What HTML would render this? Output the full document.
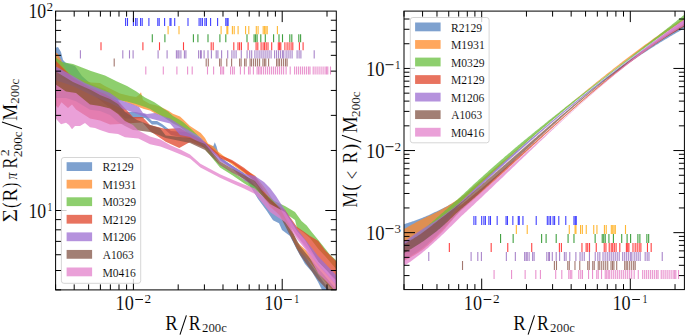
<!DOCTYPE html><html><head><meta charset="utf-8"><style>html,body{margin:0;padding:0;background:#fff;overflow:hidden;width:685px;height:335px;}svg{display:block}</style></head><body><svg width="685" height="335" viewBox="0 0 685 335" font-family="&quot;Liberation Serif&quot;, serif" fill="#000"><rect width="685" height="335" fill="#fff"/><defs><clipPath id="cL"><rect x="55.6" y="11.1" width="280.7" height="278.79999999999995"/></clipPath><clipPath id="cR"><rect x="404.0" y="11.1" width="280.4" height="278.5"/></clipPath></defs><g clip-path="url(#cL)"><polygon points="55.0,48.0 58.0,47.0 61.0,52.0 63.0,60.0 66.0,63.0 75.0,66.0 82.0,76.0 91.0,84.0 105.0,89.0 118.0,100.0 125.0,111.7 136.0,112.0 145.0,114.0 152.0,121.0 157.0,121.0 162.0,124.0 171.0,131.0 185.5,132.0 190.0,133.0 200.0,138.0 205.0,143.0 212.0,146.0 213.2,146.3 214.8,142.3 216.5,146.3 218.0,152.0 220.0,157.0 232.0,165.5 244.0,173.0 255.0,186.0 258.0,192.0 270.0,205.0 280.0,212.0 290.0,224.0 297.0,244.0 305.0,256.0 322.0,280.0 337.0,300.0 337.0,310.0 322.0,290.0 318.0,282.0 312.0,272.0 305.0,264.0 297.0,250.0 290.0,236.0 282.0,230.0 279.0,223.3 273.0,220.3 267.0,211.3 258.0,199.0 255.0,194.0 244.0,176.0 232.0,168.5 220.0,160.0 218.0,155.0 212.0,150.0 205.0,148.0 200.0,144.0 190.0,139.0 185.5,138.0 171.0,135.0 162.0,127.0 157.0,124.5 152.0,124.5 145.0,118.0 136.0,118.4 125.0,118.4 118.0,113.0 105.0,104.0 91.0,93.0 75.0,80.0 66.0,75.0 55.0,62.0" fill="#5382bf" fill-opacity="0.75"/><polygon points="55.0,52.0 58.0,54.0 61.0,60.0 66.0,70.0 73.0,76.0 82.0,80.0 91.0,82.5 100.0,83.0 105.0,86.0 117.0,92.0 120.0,93.6 130.0,96.0 136.0,97.0 139.0,95.0 141.0,92.2 143.0,100.0 150.0,104.0 155.0,105.0 159.5,106.6 164.0,108.4 168.4,110.7 172.9,113.8 180.0,116.5 183.0,119.3 190.0,126.0 200.8,133.0 205.0,138.0 208.0,143.4 213.0,146.0 218.4,151.7 223.7,155.9 232.0,161.1 244.0,169.0 255.0,175.5 265.0,188.0 275.0,203.0 285.0,214.0 297.0,242.0 310.0,254.0 320.0,266.0 337.0,285.0 337.0,296.0 320.0,275.0 310.0,262.0 297.0,249.0 285.0,221.0 275.0,209.0 265.0,194.0 255.0,180.5 244.0,173.0 232.0,164.5 223.7,158.5 218.4,154.8 208.0,148.0 205.0,144.0 200.0,137.0 190.0,131.0 183.0,128.3 180.0,126.0 172.0,122.0 165.0,117.0 156.0,114.0 150.0,110.5 144.0,109.0 132.0,104.5 120.0,100.0 105.0,95.0 100.0,90.0 91.0,89.5 82.0,86.0 73.0,80.0 66.0,76.0 60.0,68.0 55.0,64.0" fill="#ff8a28" fill-opacity="0.75"/><polygon points="55.0,57.0 62.0,62.0 73.0,64.0 82.0,67.5 91.0,71.0 105.0,75.6 117.0,81.5 127.0,86.0 136.0,91.3 145.0,97.6 154.0,102.0 160.0,106.0 164.0,109.0 168.0,111.5 173.0,116.0 180.0,120.0 183.0,122.0 190.0,128.0 200.8,138.2 205.7,145.0 220.0,164.5 232.0,172.0 244.0,179.6 255.0,185.0 265.0,193.0 274.4,200.9 284.9,206.1 295.0,212.1 301.5,221.0 306.7,225.4 311.9,232.2 317.9,239.6 323.9,247.1 329.8,254.6 337.0,261.0 337.0,270.0 325.0,256.0 318.4,249.0 310.0,238.0 303.0,232.0 297.0,228.0 295.0,220.0 284.9,213.0 275.0,206.0 265.0,198.0 255.0,190.0 244.0,183.2 232.0,175.0 220.0,167.5 205.7,150.0 200.8,143.0 190.0,135.0 180.0,127.0 173.0,123.6 164.0,117.4 155.0,112.0 150.0,109.0 145.0,107.0 136.0,104.0 127.0,101.5 117.0,100.0 105.0,97.0 100.0,96.0 91.0,92.0 82.0,88.0 73.0,84.0 62.0,78.0 55.0,76.0" fill="#68bf3e" fill-opacity="0.75"/><polygon points="55.0,60.0 73.0,78.0 91.0,88.0 105.0,94.0 120.0,103.0 133.0,117.0 142.5,117.0 150.0,125.0 165.7,129.0 180.0,128.0 190.0,134.0 205.0,142.0 212.0,148.0 220.0,155.0 232.0,160.0 244.0,167.7 255.0,176.5 270.0,200.0 285.0,209.9 297.0,227.0 303.0,231.0 310.0,236.0 318.4,241.0 325.0,250.0 337.0,262.0 337.0,284.0 328.0,272.0 318.4,262.0 305.0,245.0 297.0,236.0 285.0,219.0 270.0,207.0 255.0,182.0 244.0,172.0 232.0,163.0 220.0,158.5 212.0,152.0 205.0,148.0 190.0,142.0 179.3,148.0 165.7,141.7 150.0,131.0 142.5,122.5 133.0,123.0 120.0,124.0 110.0,124.6 100.0,120.5 90.0,118.5 76.0,109.6 72.0,104.6 68.0,108.0 64.0,104.6 61.5,102.2 58.0,108.0 55.0,104.6" fill="#e0442a" fill-opacity="0.75"/><polygon points="55.0,66.0 73.0,76.0 85.0,83.0 100.0,89.0 110.0,93.0 120.0,100.0 132.0,104.0 139.0,107.0 143.0,113.0 147.0,114.0 155.0,113.0 160.0,115.0 165.0,117.0 170.0,118.5 180.0,125.0 190.0,131.0 200.0,137.0 220.0,158.0 232.0,165.5 245.0,174.0 255.0,176.0 264.0,182.0 270.0,188.0 276.0,196.0 297.0,229.0 318.0,256.0 337.0,276.0 337.0,286.0 318.0,265.0 297.0,236.0 276.0,204.0 270.0,198.0 264.0,192.0 255.0,185.0 245.0,181.0 232.0,168.5 220.0,161.5 200.0,143.0 190.0,137.0 180.0,135.0 170.0,123.4 160.0,121.0 145.0,117.0 132.0,112.0 120.0,108.0 110.0,103.0 100.0,99.0 91.0,95.0 73.0,86.0 55.0,80.0" fill="#9c6ed2" fill-opacity="0.75"/><polygon points="55.0,71.0 73.0,82.0 91.0,90.0 100.0,95.0 110.0,99.0 118.0,104.0 125.0,112.0 137.0,120.0 150.0,125.0 160.0,128.0 165.7,135.4 190.0,138.0 205.0,144.0 220.0,161.5 232.0,168.5 244.0,175.0 255.0,181.0 265.0,194.0 280.0,208.0 300.0,246.0 318.0,268.0 337.0,290.0 337.0,300.0 318.0,280.0 300.0,255.0 280.0,216.0 265.0,200.0 255.0,187.0 244.0,179.0 232.0,172.5 220.0,165.0 205.0,150.0 190.0,143.0 165.7,138.0 160.0,135.4 150.0,132.0 138.4,130.5 133.0,129.9 125.0,126.0 118.0,122.0 110.0,115.0 100.0,111.1 90.0,109.8 76.0,101.3 66.0,98.0 55.0,98.0" fill="#835446" fill-opacity="0.75"/><polygon points="55.0,84.0 66.0,91.5 76.0,93.0 90.0,104.4 100.0,106.0 110.0,108.5 118.0,114.0 125.0,121.0 133.0,125.0 138.4,130.5 150.0,136.5 160.4,139.6 170.9,145.4 181.3,150.1 190.0,154.5 200.4,163.8 220.0,174.3 232.0,179.6 244.0,184.5 255.0,188.5 270.0,204.0 285.0,212.0 297.0,231.0 305.0,240.0 318.4,262.0 328.0,272.0 337.0,281.0 337.0,293.0 328.0,283.0 318.4,273.5 305.0,249.0 297.0,239.0 285.0,222.0 270.0,212.0 255.0,194.0 244.0,188.5 232.0,183.2 220.0,177.8 200.4,167.5 190.0,158.5 181.3,154.8 170.9,150.6 160.4,146.4 150.0,144.3 138.4,138.6 125.0,137.3 118.0,134.0 109.0,133.0 100.0,130.0 95.0,128.0 90.0,127.3 85.0,123.0 80.0,126.0 75.0,126.0 72.0,129.3 69.0,125.0 66.0,122.7 61.0,124.3 57.0,120.0 55.0,117.0" fill="#e380cb" fill-opacity="0.75"/><line x1="125.60" y1="18.00" x2="125.60" y2="26.10" stroke="#0000ff" stroke-opacity="0.75" stroke-width="1.1"/><line x1="127.50" y1="18.00" x2="127.50" y2="26.10" stroke="#0000ff" stroke-opacity="0.75" stroke-width="1.1"/><line x1="133.40" y1="18.00" x2="133.40" y2="26.10" stroke="#0000ff" stroke-opacity="0.75" stroke-width="1.1"/><line x1="135.60" y1="18.00" x2="135.60" y2="26.10" stroke="#0000ff" stroke-opacity="0.75" stroke-width="1.1"/><line x1="137.10" y1="18.00" x2="137.10" y2="26.10" stroke="#0000ff" stroke-opacity="0.75" stroke-width="1.1"/><line x1="140.60" y1="18.00" x2="140.60" y2="26.10" stroke="#0000ff" stroke-opacity="0.75" stroke-width="1.1"/><line x1="142.20" y1="18.00" x2="142.20" y2="26.10" stroke="#0000ff" stroke-opacity="0.75" stroke-width="1.1"/><line x1="148.90" y1="18.00" x2="148.90" y2="26.10" stroke="#0000ff" stroke-opacity="0.75" stroke-width="1.1"/><line x1="157.80" y1="18.00" x2="157.80" y2="26.10" stroke="#0000ff" stroke-opacity="0.75" stroke-width="1.1"/><line x1="159.20" y1="18.00" x2="159.20" y2="26.10" stroke="#0000ff" stroke-opacity="0.75" stroke-width="1.1"/><line x1="164.60" y1="18.00" x2="164.60" y2="26.10" stroke="#0000ff" stroke-opacity="0.75" stroke-width="1.1"/><line x1="170.00" y1="18.00" x2="170.00" y2="26.10" stroke="#0000ff" stroke-opacity="0.75" stroke-width="1.1"/><line x1="171.00" y1="18.00" x2="171.00" y2="26.10" stroke="#0000ff" stroke-opacity="0.75" stroke-width="1.1"/><line x1="174.70" y1="18.00" x2="174.70" y2="26.10" stroke="#0000ff" stroke-opacity="0.75" stroke-width="1.1"/><line x1="188.00" y1="18.00" x2="188.00" y2="26.10" stroke="#0000ff" stroke-opacity="0.75" stroke-width="1.1"/><line x1="199.10" y1="18.00" x2="199.10" y2="26.10" stroke="#0000ff" stroke-opacity="0.75" stroke-width="1.1"/><line x1="200.80" y1="18.00" x2="200.80" y2="26.10" stroke="#0000ff" stroke-opacity="0.75" stroke-width="1.1"/><line x1="202.40" y1="18.00" x2="202.40" y2="26.10" stroke="#0000ff" stroke-opacity="0.75" stroke-width="1.1"/><line x1="204.90" y1="18.00" x2="204.90" y2="26.10" stroke="#0000ff" stroke-opacity="0.75" stroke-width="1.1"/><line x1="206.40" y1="18.00" x2="206.40" y2="26.10" stroke="#0000ff" stroke-opacity="0.75" stroke-width="1.1"/><line x1="210.60" y1="18.00" x2="210.60" y2="26.10" stroke="#0000ff" stroke-opacity="0.75" stroke-width="1.1"/><line x1="217.60" y1="18.00" x2="217.60" y2="26.10" stroke="#0000ff" stroke-opacity="0.75" stroke-width="1.1"/><line x1="225.80" y1="18.00" x2="225.80" y2="26.10" stroke="#0000ff" stroke-opacity="0.75" stroke-width="1.1"/><line x1="227.10" y1="18.00" x2="227.10" y2="26.10" stroke="#0000ff" stroke-opacity="0.75" stroke-width="1.1"/><line x1="228.10" y1="18.00" x2="228.10" y2="26.10" stroke="#0000ff" stroke-opacity="0.75" stroke-width="1.1"/><line x1="168.10" y1="26.08" x2="168.10" y2="34.18" stroke="#ffa500" stroke-opacity="0.8" stroke-width="1.1"/><line x1="179.00" y1="26.08" x2="179.00" y2="34.18" stroke="#ffa500" stroke-opacity="0.8" stroke-width="1.1"/><line x1="221.10" y1="26.08" x2="221.10" y2="34.18" stroke="#ffa500" stroke-opacity="0.8" stroke-width="1.1"/><line x1="226.90" y1="26.08" x2="226.90" y2="34.18" stroke="#ffa500" stroke-opacity="0.8" stroke-width="1.1"/><line x1="227.80" y1="26.08" x2="227.80" y2="34.18" stroke="#ffa500" stroke-opacity="0.8" stroke-width="1.1"/><line x1="232.40" y1="26.08" x2="232.40" y2="34.18" stroke="#ffa500" stroke-opacity="0.8" stroke-width="1.1"/><line x1="234.20" y1="26.08" x2="234.20" y2="34.18" stroke="#ffa500" stroke-opacity="0.8" stroke-width="1.1"/><line x1="238.10" y1="26.08" x2="238.10" y2="34.18" stroke="#ffa500" stroke-opacity="0.8" stroke-width="1.1"/><line x1="245.60" y1="26.08" x2="245.60" y2="34.18" stroke="#ffa500" stroke-opacity="0.8" stroke-width="1.1"/><line x1="248.80" y1="26.08" x2="248.80" y2="34.18" stroke="#ffa500" stroke-opacity="0.8" stroke-width="1.1"/><line x1="256.30" y1="26.08" x2="256.30" y2="34.18" stroke="#ffa500" stroke-opacity="0.8" stroke-width="1.1"/><line x1="258.10" y1="26.08" x2="258.10" y2="34.18" stroke="#ffa500" stroke-opacity="0.8" stroke-width="1.1"/><line x1="263.20" y1="26.08" x2="263.20" y2="34.18" stroke="#ffa500" stroke-opacity="0.8" stroke-width="1.1"/><line x1="264.60" y1="26.08" x2="264.60" y2="34.18" stroke="#ffa500" stroke-opacity="0.8" stroke-width="1.1"/><line x1="265.90" y1="26.08" x2="265.90" y2="34.18" stroke="#ffa500" stroke-opacity="0.8" stroke-width="1.1"/><line x1="267.20" y1="26.08" x2="267.20" y2="34.18" stroke="#ffa500" stroke-opacity="0.8" stroke-width="1.1"/><line x1="277.40" y1="26.08" x2="277.40" y2="34.18" stroke="#ffa500" stroke-opacity="0.8" stroke-width="1.1"/><line x1="152.30" y1="34.16" x2="152.30" y2="42.26" stroke="#008000" stroke-opacity="0.75" stroke-width="1.1"/><line x1="164.90" y1="34.16" x2="164.90" y2="42.26" stroke="#008000" stroke-opacity="0.75" stroke-width="1.1"/><line x1="193.40" y1="34.16" x2="193.40" y2="42.26" stroke="#008000" stroke-opacity="0.75" stroke-width="1.1"/><line x1="197.90" y1="34.16" x2="197.90" y2="42.26" stroke="#008000" stroke-opacity="0.75" stroke-width="1.1"/><line x1="208.00" y1="34.16" x2="208.00" y2="42.26" stroke="#008000" stroke-opacity="0.75" stroke-width="1.1"/><line x1="219.90" y1="34.16" x2="219.90" y2="42.26" stroke="#008000" stroke-opacity="0.75" stroke-width="1.1"/><line x1="225.80" y1="34.16" x2="225.80" y2="42.26" stroke="#008000" stroke-opacity="0.75" stroke-width="1.1"/><line x1="247.00" y1="34.16" x2="247.00" y2="42.26" stroke="#008000" stroke-opacity="0.75" stroke-width="1.1"/><line x1="254.10" y1="34.16" x2="254.10" y2="42.26" stroke="#008000" stroke-opacity="0.75" stroke-width="1.1"/><line x1="255.60" y1="34.16" x2="255.60" y2="42.26" stroke="#008000" stroke-opacity="0.75" stroke-width="1.1"/><line x1="257.10" y1="34.16" x2="257.10" y2="42.26" stroke="#008000" stroke-opacity="0.75" stroke-width="1.1"/><line x1="260.80" y1="34.16" x2="260.80" y2="42.26" stroke="#008000" stroke-opacity="0.75" stroke-width="1.1"/><line x1="265.30" y1="34.16" x2="265.30" y2="42.26" stroke="#008000" stroke-opacity="0.75" stroke-width="1.1"/><line x1="273.60" y1="34.16" x2="273.60" y2="42.26" stroke="#008000" stroke-opacity="0.75" stroke-width="1.1"/><line x1="279.00" y1="34.16" x2="279.00" y2="42.26" stroke="#008000" stroke-opacity="0.75" stroke-width="1.1"/><line x1="282.50" y1="34.16" x2="282.50" y2="42.26" stroke="#008000" stroke-opacity="0.75" stroke-width="1.1"/><line x1="289.80" y1="34.16" x2="289.80" y2="42.26" stroke="#008000" stroke-opacity="0.75" stroke-width="1.1"/><line x1="291.80" y1="34.16" x2="291.80" y2="42.26" stroke="#008000" stroke-opacity="0.75" stroke-width="1.1"/><line x1="298.80" y1="34.16" x2="298.80" y2="42.26" stroke="#008000" stroke-opacity="0.75" stroke-width="1.1"/><line x1="300.60" y1="34.16" x2="300.60" y2="42.26" stroke="#008000" stroke-opacity="0.75" stroke-width="1.1"/><line x1="101.00" y1="42.24" x2="101.00" y2="50.34" stroke="#ff0000" stroke-opacity="0.75" stroke-width="1.1"/><line x1="142.90" y1="42.24" x2="142.90" y2="50.34" stroke="#ff0000" stroke-opacity="0.75" stroke-width="1.1"/><line x1="159.50" y1="42.24" x2="159.50" y2="50.34" stroke="#ff0000" stroke-opacity="0.75" stroke-width="1.1"/><line x1="183.50" y1="42.24" x2="183.50" y2="50.34" stroke="#ff0000" stroke-opacity="0.75" stroke-width="1.1"/><line x1="211.20" y1="42.24" x2="211.20" y2="50.34" stroke="#ff0000" stroke-opacity="0.75" stroke-width="1.1"/><line x1="213.20" y1="42.24" x2="213.20" y2="50.34" stroke="#ff0000" stroke-opacity="0.75" stroke-width="1.1"/><line x1="233.80" y1="42.24" x2="233.80" y2="50.34" stroke="#ff0000" stroke-opacity="0.75" stroke-width="1.1"/><line x1="238.00" y1="42.24" x2="238.00" y2="50.34" stroke="#ff0000" stroke-opacity="0.75" stroke-width="1.1"/><line x1="239.60" y1="42.24" x2="239.60" y2="50.34" stroke="#ff0000" stroke-opacity="0.75" stroke-width="1.1"/><line x1="241.40" y1="42.24" x2="241.40" y2="50.34" stroke="#ff0000" stroke-opacity="0.75" stroke-width="1.1"/><line x1="248.10" y1="42.24" x2="248.10" y2="50.34" stroke="#ff0000" stroke-opacity="0.75" stroke-width="1.1"/><line x1="256.10" y1="42.24" x2="256.10" y2="50.34" stroke="#ff0000" stroke-opacity="0.75" stroke-width="1.1"/><line x1="257.80" y1="42.24" x2="257.80" y2="50.34" stroke="#ff0000" stroke-opacity="0.75" stroke-width="1.1"/><line x1="261.10" y1="42.24" x2="261.10" y2="50.34" stroke="#ff0000" stroke-opacity="0.75" stroke-width="1.1"/><line x1="263.10" y1="42.24" x2="263.10" y2="50.34" stroke="#ff0000" stroke-opacity="0.75" stroke-width="1.1"/><line x1="264.60" y1="42.24" x2="264.60" y2="50.34" stroke="#ff0000" stroke-opacity="0.75" stroke-width="1.1"/><line x1="266.20" y1="42.24" x2="266.20" y2="50.34" stroke="#ff0000" stroke-opacity="0.75" stroke-width="1.1"/><line x1="268.00" y1="42.24" x2="268.00" y2="50.34" stroke="#ff0000" stroke-opacity="0.75" stroke-width="1.1"/><line x1="271.70" y1="42.24" x2="271.70" y2="50.34" stroke="#ff0000" stroke-opacity="0.75" stroke-width="1.1"/><line x1="278.30" y1="42.24" x2="278.30" y2="50.34" stroke="#ff0000" stroke-opacity="0.75" stroke-width="1.1"/><line x1="279.60" y1="42.24" x2="279.60" y2="50.34" stroke="#ff0000" stroke-opacity="0.75" stroke-width="1.1"/><line x1="280.80" y1="42.24" x2="280.80" y2="50.34" stroke="#ff0000" stroke-opacity="0.75" stroke-width="1.1"/><line x1="284.90" y1="42.24" x2="284.90" y2="50.34" stroke="#ff0000" stroke-opacity="0.75" stroke-width="1.1"/><line x1="287.10" y1="42.24" x2="287.10" y2="50.34" stroke="#ff0000" stroke-opacity="0.75" stroke-width="1.1"/><line x1="289.10" y1="42.24" x2="289.10" y2="50.34" stroke="#ff0000" stroke-opacity="0.75" stroke-width="1.1"/><line x1="291.10" y1="42.24" x2="291.10" y2="50.34" stroke="#ff0000" stroke-opacity="0.75" stroke-width="1.1"/><line x1="292.80" y1="42.24" x2="292.80" y2="50.34" stroke="#ff0000" stroke-opacity="0.75" stroke-width="1.1"/><line x1="299.40" y1="42.24" x2="299.40" y2="50.34" stroke="#ff0000" stroke-opacity="0.75" stroke-width="1.1"/><line x1="303.10" y1="42.24" x2="303.10" y2="50.34" stroke="#ff0000" stroke-opacity="0.75" stroke-width="1.1"/><line x1="80.40" y1="50.32" x2="80.40" y2="58.42" stroke="#9467bd" stroke-opacity="0.8" stroke-width="1.1"/><line x1="122.80" y1="50.32" x2="122.80" y2="58.42" stroke="#9467bd" stroke-opacity="0.8" stroke-width="1.1"/><line x1="129.50" y1="50.32" x2="129.50" y2="58.42" stroke="#9467bd" stroke-opacity="0.8" stroke-width="1.1"/><line x1="133.10" y1="50.32" x2="133.10" y2="58.42" stroke="#9467bd" stroke-opacity="0.8" stroke-width="1.1"/><line x1="158.10" y1="50.32" x2="158.10" y2="58.42" stroke="#9467bd" stroke-opacity="0.8" stroke-width="1.1"/><line x1="167.10" y1="50.32" x2="167.10" y2="58.42" stroke="#9467bd" stroke-opacity="0.8" stroke-width="1.1"/><line x1="176.40" y1="50.32" x2="176.40" y2="58.42" stroke="#9467bd" stroke-opacity="0.8" stroke-width="1.1"/><line x1="177.90" y1="50.32" x2="177.90" y2="58.42" stroke="#9467bd" stroke-opacity="0.8" stroke-width="1.1"/><line x1="179.00" y1="50.32" x2="179.00" y2="58.42" stroke="#9467bd" stroke-opacity="0.8" stroke-width="1.1"/><line x1="180.90" y1="50.32" x2="180.90" y2="58.42" stroke="#9467bd" stroke-opacity="0.8" stroke-width="1.1"/><line x1="184.40" y1="50.32" x2="184.40" y2="58.42" stroke="#9467bd" stroke-opacity="0.8" stroke-width="1.1"/><line x1="185.90" y1="50.32" x2="185.90" y2="58.42" stroke="#9467bd" stroke-opacity="0.8" stroke-width="1.1"/><line x1="198.60" y1="50.32" x2="198.60" y2="58.42" stroke="#9467bd" stroke-opacity="0.8" stroke-width="1.1"/><line x1="200.50" y1="50.32" x2="200.50" y2="58.42" stroke="#9467bd" stroke-opacity="0.8" stroke-width="1.1"/><line x1="201.30" y1="50.32" x2="201.30" y2="58.42" stroke="#9467bd" stroke-opacity="0.8" stroke-width="1.1"/><line x1="204.10" y1="50.32" x2="204.10" y2="58.42" stroke="#9467bd" stroke-opacity="0.8" stroke-width="1.1"/><line x1="208.00" y1="50.32" x2="208.00" y2="58.42" stroke="#9467bd" stroke-opacity="0.8" stroke-width="1.1"/><line x1="211.40" y1="50.32" x2="211.40" y2="58.42" stroke="#9467bd" stroke-opacity="0.8" stroke-width="1.1"/><line x1="216.20" y1="50.32" x2="216.20" y2="58.42" stroke="#9467bd" stroke-opacity="0.8" stroke-width="1.1"/><line x1="217.90" y1="50.32" x2="217.90" y2="58.42" stroke="#9467bd" stroke-opacity="0.8" stroke-width="1.1"/><line x1="221.60" y1="50.32" x2="221.60" y2="58.42" stroke="#9467bd" stroke-opacity="0.8" stroke-width="1.1"/><line x1="227.70" y1="50.32" x2="227.70" y2="58.42" stroke="#9467bd" stroke-opacity="0.8" stroke-width="1.1"/><line x1="231.90" y1="50.32" x2="231.90" y2="58.42" stroke="#9467bd" stroke-opacity="0.8" stroke-width="1.1"/><line x1="234.00" y1="50.32" x2="234.00" y2="58.42" stroke="#9467bd" stroke-opacity="0.8" stroke-width="1.1"/><line x1="236.10" y1="50.32" x2="236.10" y2="58.42" stroke="#9467bd" stroke-opacity="0.8" stroke-width="1.1"/><line x1="241.30" y1="50.32" x2="241.30" y2="58.42" stroke="#9467bd" stroke-opacity="0.8" stroke-width="1.1"/><line x1="247.10" y1="50.32" x2="247.10" y2="58.42" stroke="#9467bd" stroke-opacity="0.8" stroke-width="1.1"/><line x1="249.70" y1="50.32" x2="249.70" y2="58.42" stroke="#9467bd" stroke-opacity="0.8" stroke-width="1.1"/><line x1="251.70" y1="50.32" x2="251.70" y2="58.42" stroke="#9467bd" stroke-opacity="0.8" stroke-width="1.1"/><line x1="254.90" y1="50.32" x2="254.90" y2="58.42" stroke="#9467bd" stroke-opacity="0.8" stroke-width="1.1"/><line x1="257.00" y1="50.32" x2="257.00" y2="58.42" stroke="#9467bd" stroke-opacity="0.8" stroke-width="1.1"/><line x1="259.10" y1="50.32" x2="259.10" y2="58.42" stroke="#9467bd" stroke-opacity="0.8" stroke-width="1.1"/><line x1="261.10" y1="50.32" x2="261.10" y2="58.42" stroke="#9467bd" stroke-opacity="0.8" stroke-width="1.1"/><line x1="263.10" y1="50.32" x2="263.10" y2="58.42" stroke="#9467bd" stroke-opacity="0.8" stroke-width="1.1"/><line x1="265.10" y1="50.32" x2="265.10" y2="58.42" stroke="#9467bd" stroke-opacity="0.8" stroke-width="1.1"/><line x1="267.10" y1="50.32" x2="267.10" y2="58.42" stroke="#9467bd" stroke-opacity="0.8" stroke-width="1.1"/><line x1="269.10" y1="50.32" x2="269.10" y2="58.42" stroke="#9467bd" stroke-opacity="0.8" stroke-width="1.1"/><line x1="271.10" y1="50.32" x2="271.10" y2="58.42" stroke="#9467bd" stroke-opacity="0.8" stroke-width="1.1"/><line x1="274.60" y1="50.32" x2="274.60" y2="58.42" stroke="#9467bd" stroke-opacity="0.8" stroke-width="1.1"/><line x1="276.60" y1="50.32" x2="276.60" y2="58.42" stroke="#9467bd" stroke-opacity="0.8" stroke-width="1.1"/><line x1="278.60" y1="50.32" x2="278.60" y2="58.42" stroke="#9467bd" stroke-opacity="0.8" stroke-width="1.1"/><line x1="280.60" y1="50.32" x2="280.60" y2="58.42" stroke="#9467bd" stroke-opacity="0.8" stroke-width="1.1"/><line x1="282.60" y1="50.32" x2="282.60" y2="58.42" stroke="#9467bd" stroke-opacity="0.8" stroke-width="1.1"/><line x1="283.80" y1="50.32" x2="283.80" y2="58.42" stroke="#9467bd" stroke-opacity="0.8" stroke-width="1.1"/><line x1="286.10" y1="50.32" x2="286.10" y2="58.42" stroke="#9467bd" stroke-opacity="0.8" stroke-width="1.1"/><line x1="288.10" y1="50.32" x2="288.10" y2="58.42" stroke="#9467bd" stroke-opacity="0.8" stroke-width="1.1"/><line x1="290.10" y1="50.32" x2="290.10" y2="58.42" stroke="#9467bd" stroke-opacity="0.8" stroke-width="1.1"/><line x1="292.10" y1="50.32" x2="292.10" y2="58.42" stroke="#9467bd" stroke-opacity="0.8" stroke-width="1.1"/><line x1="297.10" y1="50.32" x2="297.10" y2="58.42" stroke="#9467bd" stroke-opacity="0.8" stroke-width="1.1"/><line x1="299.10" y1="50.32" x2="299.10" y2="58.42" stroke="#9467bd" stroke-opacity="0.8" stroke-width="1.1"/><line x1="300.90" y1="50.32" x2="300.90" y2="58.42" stroke="#9467bd" stroke-opacity="0.8" stroke-width="1.1"/><line x1="314.20" y1="50.32" x2="314.20" y2="58.42" stroke="#9467bd" stroke-opacity="0.8" stroke-width="1.1"/><line x1="114.20" y1="58.40" x2="114.20" y2="66.50" stroke="#8c564b" stroke-opacity="0.8" stroke-width="1.1"/><line x1="206.20" y1="58.40" x2="206.20" y2="66.50" stroke="#8c564b" stroke-opacity="0.8" stroke-width="1.1"/><line x1="208.30" y1="58.40" x2="208.30" y2="66.50" stroke="#8c564b" stroke-opacity="0.8" stroke-width="1.1"/><line x1="219.60" y1="58.40" x2="219.60" y2="66.50" stroke="#8c564b" stroke-opacity="0.8" stroke-width="1.1"/><line x1="221.10" y1="58.40" x2="221.10" y2="66.50" stroke="#8c564b" stroke-opacity="0.8" stroke-width="1.1"/><line x1="226.80" y1="58.40" x2="226.80" y2="66.50" stroke="#8c564b" stroke-opacity="0.8" stroke-width="1.1"/><line x1="231.60" y1="58.40" x2="231.60" y2="66.50" stroke="#8c564b" stroke-opacity="0.8" stroke-width="1.1"/><line x1="239.60" y1="58.40" x2="239.60" y2="66.50" stroke="#8c564b" stroke-opacity="0.8" stroke-width="1.1"/><line x1="241.10" y1="58.40" x2="241.10" y2="66.50" stroke="#8c564b" stroke-opacity="0.8" stroke-width="1.1"/><line x1="244.60" y1="58.40" x2="244.60" y2="66.50" stroke="#8c564b" stroke-opacity="0.8" stroke-width="1.1"/><line x1="246.10" y1="58.40" x2="246.10" y2="66.50" stroke="#8c564b" stroke-opacity="0.8" stroke-width="1.1"/><line x1="250.10" y1="58.40" x2="250.10" y2="66.50" stroke="#8c564b" stroke-opacity="0.8" stroke-width="1.1"/><line x1="251.60" y1="58.40" x2="251.60" y2="66.50" stroke="#8c564b" stroke-opacity="0.8" stroke-width="1.1"/><line x1="253.60" y1="58.40" x2="253.60" y2="66.50" stroke="#8c564b" stroke-opacity="0.8" stroke-width="1.1"/><line x1="255.60" y1="58.40" x2="255.60" y2="66.50" stroke="#8c564b" stroke-opacity="0.8" stroke-width="1.1"/><line x1="257.60" y1="58.40" x2="257.60" y2="66.50" stroke="#8c564b" stroke-opacity="0.8" stroke-width="1.1"/><line x1="259.60" y1="58.40" x2="259.60" y2="66.50" stroke="#8c564b" stroke-opacity="0.8" stroke-width="1.1"/><line x1="262.90" y1="58.40" x2="262.90" y2="66.50" stroke="#8c564b" stroke-opacity="0.8" stroke-width="1.1"/><line x1="264.40" y1="58.40" x2="264.40" y2="66.50" stroke="#8c564b" stroke-opacity="0.8" stroke-width="1.1"/><line x1="265.80" y1="58.40" x2="265.80" y2="66.50" stroke="#8c564b" stroke-opacity="0.8" stroke-width="1.1"/><line x1="268.60" y1="58.40" x2="268.60" y2="66.50" stroke="#8c564b" stroke-opacity="0.8" stroke-width="1.1"/><line x1="276.60" y1="58.40" x2="276.60" y2="66.50" stroke="#8c564b" stroke-opacity="0.8" stroke-width="1.1"/><line x1="278.10" y1="58.40" x2="278.10" y2="66.50" stroke="#8c564b" stroke-opacity="0.8" stroke-width="1.1"/><line x1="279.60" y1="58.40" x2="279.60" y2="66.50" stroke="#8c564b" stroke-opacity="0.8" stroke-width="1.1"/><line x1="281.60" y1="58.40" x2="281.60" y2="66.50" stroke="#8c564b" stroke-opacity="0.8" stroke-width="1.1"/><line x1="283.60" y1="58.40" x2="283.60" y2="66.50" stroke="#8c564b" stroke-opacity="0.8" stroke-width="1.1"/><line x1="285.60" y1="58.40" x2="285.60" y2="66.50" stroke="#8c564b" stroke-opacity="0.8" stroke-width="1.1"/><line x1="287.10" y1="58.40" x2="287.10" y2="66.50" stroke="#8c564b" stroke-opacity="0.8" stroke-width="1.1"/><line x1="145.80" y1="66.48" x2="145.80" y2="74.58" stroke="#e377c2" stroke-opacity="0.8" stroke-width="1.1"/><line x1="163.30" y1="66.48" x2="163.30" y2="74.58" stroke="#e377c2" stroke-opacity="0.8" stroke-width="1.1"/><line x1="176.90" y1="66.48" x2="176.90" y2="74.58" stroke="#e377c2" stroke-opacity="0.8" stroke-width="1.1"/><line x1="187.60" y1="66.48" x2="187.60" y2="74.58" stroke="#e377c2" stroke-opacity="0.8" stroke-width="1.1"/><line x1="192.20" y1="66.48" x2="192.20" y2="74.58" stroke="#e377c2" stroke-opacity="0.8" stroke-width="1.1"/><line x1="207.50" y1="66.48" x2="207.50" y2="74.58" stroke="#e377c2" stroke-opacity="0.8" stroke-width="1.1"/><line x1="213.60" y1="66.48" x2="213.60" y2="74.58" stroke="#e377c2" stroke-opacity="0.8" stroke-width="1.1"/><line x1="220.60" y1="66.48" x2="220.60" y2="74.58" stroke="#e377c2" stroke-opacity="0.8" stroke-width="1.1"/><line x1="222.10" y1="66.48" x2="222.10" y2="74.58" stroke="#e377c2" stroke-opacity="0.8" stroke-width="1.1"/><line x1="223.60" y1="66.48" x2="223.60" y2="74.58" stroke="#e377c2" stroke-opacity="0.8" stroke-width="1.1"/><line x1="230.60" y1="66.48" x2="230.60" y2="74.58" stroke="#e377c2" stroke-opacity="0.8" stroke-width="1.1"/><line x1="232.60" y1="66.48" x2="232.60" y2="74.58" stroke="#e377c2" stroke-opacity="0.8" stroke-width="1.1"/><line x1="234.30" y1="66.48" x2="234.30" y2="74.58" stroke="#e377c2" stroke-opacity="0.8" stroke-width="1.1"/><line x1="240.40" y1="66.48" x2="240.40" y2="74.58" stroke="#e377c2" stroke-opacity="0.8" stroke-width="1.1"/><line x1="244.40" y1="66.48" x2="244.40" y2="74.58" stroke="#e377c2" stroke-opacity="0.8" stroke-width="1.1"/><line x1="248.60" y1="66.48" x2="248.60" y2="74.58" stroke="#e377c2" stroke-opacity="0.8" stroke-width="1.1"/><line x1="250.10" y1="66.48" x2="250.10" y2="74.58" stroke="#e377c2" stroke-opacity="0.8" stroke-width="1.1"/><line x1="253.40" y1="66.48" x2="253.40" y2="74.58" stroke="#e377c2" stroke-opacity="0.8" stroke-width="1.1"/><line x1="257.10" y1="66.48" x2="257.10" y2="74.58" stroke="#e377c2" stroke-opacity="0.8" stroke-width="1.1"/><line x1="258.60" y1="66.48" x2="258.60" y2="74.58" stroke="#e377c2" stroke-opacity="0.8" stroke-width="1.1"/><line x1="260.10" y1="66.48" x2="260.10" y2="74.58" stroke="#e377c2" stroke-opacity="0.8" stroke-width="1.1"/><line x1="261.60" y1="66.48" x2="261.60" y2="74.58" stroke="#e377c2" stroke-opacity="0.8" stroke-width="1.1"/><line x1="263.60" y1="66.48" x2="263.60" y2="74.58" stroke="#e377c2" stroke-opacity="0.8" stroke-width="1.1"/><line x1="265.60" y1="66.48" x2="265.60" y2="74.58" stroke="#e377c2" stroke-opacity="0.8" stroke-width="1.1"/><line x1="267.60" y1="66.48" x2="267.60" y2="74.58" stroke="#e377c2" stroke-opacity="0.8" stroke-width="1.1"/><line x1="269.60" y1="66.48" x2="269.60" y2="74.58" stroke="#e377c2" stroke-opacity="0.8" stroke-width="1.1"/><line x1="271.60" y1="66.48" x2="271.60" y2="74.58" stroke="#e377c2" stroke-opacity="0.8" stroke-width="1.1"/><line x1="273.60" y1="66.48" x2="273.60" y2="74.58" stroke="#e377c2" stroke-opacity="0.8" stroke-width="1.1"/><line x1="275.60" y1="66.48" x2="275.60" y2="74.58" stroke="#e377c2" stroke-opacity="0.8" stroke-width="1.1"/><line x1="277.60" y1="66.48" x2="277.60" y2="74.58" stroke="#e377c2" stroke-opacity="0.8" stroke-width="1.1"/><line x1="279.60" y1="66.48" x2="279.60" y2="74.58" stroke="#e377c2" stroke-opacity="0.8" stroke-width="1.1"/><line x1="281.60" y1="66.48" x2="281.60" y2="74.58" stroke="#e377c2" stroke-opacity="0.8" stroke-width="1.1"/><line x1="283.60" y1="66.48" x2="283.60" y2="74.58" stroke="#e377c2" stroke-opacity="0.8" stroke-width="1.1"/><line x1="286.10" y1="66.48" x2="286.10" y2="74.58" stroke="#e377c2" stroke-opacity="0.8" stroke-width="1.1"/><line x1="290.20" y1="66.48" x2="290.20" y2="74.58" stroke="#e377c2" stroke-opacity="0.8" stroke-width="1.1"/><line x1="294.60" y1="66.48" x2="294.60" y2="74.58" stroke="#e377c2" stroke-opacity="0.8" stroke-width="1.1"/><line x1="296.60" y1="66.48" x2="296.60" y2="74.58" stroke="#e377c2" stroke-opacity="0.8" stroke-width="1.1"/><line x1="298.60" y1="66.48" x2="298.60" y2="74.58" stroke="#e377c2" stroke-opacity="0.8" stroke-width="1.1"/><line x1="300.60" y1="66.48" x2="300.60" y2="74.58" stroke="#e377c2" stroke-opacity="0.8" stroke-width="1.1"/><line x1="302.60" y1="66.48" x2="302.60" y2="74.58" stroke="#e377c2" stroke-opacity="0.8" stroke-width="1.1"/><line x1="304.60" y1="66.48" x2="304.60" y2="74.58" stroke="#e377c2" stroke-opacity="0.8" stroke-width="1.1"/><line x1="306.60" y1="66.48" x2="306.60" y2="74.58" stroke="#e377c2" stroke-opacity="0.8" stroke-width="1.1"/><line x1="308.60" y1="66.48" x2="308.60" y2="74.58" stroke="#e377c2" stroke-opacity="0.8" stroke-width="1.1"/><line x1="310.00" y1="66.48" x2="310.00" y2="74.58" stroke="#e377c2" stroke-opacity="0.8" stroke-width="1.1"/><line x1="313.20" y1="66.48" x2="313.20" y2="74.58" stroke="#e377c2" stroke-opacity="0.8" stroke-width="1.1"/><line x1="315.10" y1="66.48" x2="315.10" y2="74.58" stroke="#e377c2" stroke-opacity="0.8" stroke-width="1.1"/><line x1="317.10" y1="66.48" x2="317.10" y2="74.58" stroke="#e377c2" stroke-opacity="0.8" stroke-width="1.1"/><line x1="319.10" y1="66.48" x2="319.10" y2="74.58" stroke="#e377c2" stroke-opacity="0.8" stroke-width="1.1"/><line x1="321.10" y1="66.48" x2="321.10" y2="74.58" stroke="#e377c2" stroke-opacity="0.8" stroke-width="1.1"/><line x1="323.10" y1="66.48" x2="323.10" y2="74.58" stroke="#e377c2" stroke-opacity="0.8" stroke-width="1.1"/><line x1="325.10" y1="66.48" x2="325.10" y2="74.58" stroke="#e377c2" stroke-opacity="0.8" stroke-width="1.1"/><line x1="326.60" y1="66.48" x2="326.60" y2="74.58" stroke="#e377c2" stroke-opacity="0.8" stroke-width="1.1"/><line x1="327.80" y1="66.48" x2="327.80" y2="74.58" stroke="#e377c2" stroke-opacity="0.8" stroke-width="1.1"/><line x1="330.50" y1="66.48" x2="330.50" y2="74.58" stroke="#e377c2" stroke-opacity="0.8" stroke-width="1.1"/></g><g clip-path="url(#cR)"><polygon points="403.0,224.5 404.0,224.2 405.0,223.9 406.0,223.6 407.0,223.3 408.0,223.0 409.0,222.6 410.0,222.3 411.0,222.0 412.0,221.6 413.0,221.3 414.0,220.9 415.0,220.6 416.0,220.2 417.0,219.8 418.0,219.5 419.0,219.1 420.0,218.7 421.0,218.3 422.0,217.9 423.0,217.5 424.0,217.1 425.0,216.7 426.0,216.2 427.0,215.8 428.0,215.4 429.0,214.9 430.0,214.5 431.0,214.0 432.0,213.6 433.0,213.1 434.0,212.6 435.0,212.1 436.0,211.7 437.0,211.2 438.0,210.7 439.0,210.2 440.0,209.7 441.0,209.2 442.0,208.7 443.0,208.2 444.0,207.7 445.0,207.2 446.0,206.7 447.0,206.2 448.0,205.7 449.0,205.1 450.0,204.6 451.0,204.0 452.0,203.5 453.0,202.9 454.0,202.3 455.0,201.8 456.0,201.2 457.0,200.5 458.0,199.9 459.0,199.3 460.0,198.6 461.0,197.9 462.0,197.2 463.0,196.4 464.0,195.6 465.0,194.8 466.0,193.9 467.0,193.1 468.0,192.2 469.0,191.3 470.0,190.4 471.0,189.5 472.0,188.6 473.0,187.7 474.0,186.9 475.0,186.0 476.0,185.2 477.0,184.3 478.0,183.5 479.0,182.6 480.0,181.8 481.0,180.9 482.0,180.1 483.0,179.3 484.0,178.4 485.0,177.6 486.0,176.7 487.0,175.9 488.0,175.0 489.0,174.2 490.0,173.3 491.0,172.5 492.0,171.6 493.0,170.8 494.0,169.9 495.0,169.1 496.0,168.2 497.0,167.4 498.0,166.5 499.0,165.7 500.0,164.9 501.0,164.0 502.0,163.2 503.0,162.3 504.0,161.5 505.0,160.6 506.0,159.8 507.0,158.9 508.0,158.1 509.0,157.2 510.0,156.4 511.0,155.5 512.0,154.7 513.0,153.8 514.0,153.0 515.0,152.1 516.0,151.3 517.0,150.4 518.0,149.6 519.0,148.7 520.0,147.9 521.0,147.1 522.0,146.2 523.0,145.4 524.0,144.5 525.0,143.7 526.0,142.8 527.0,142.0 528.0,141.2 529.0,140.3 530.0,139.5 531.0,138.6 532.0,137.8 533.0,137.0 534.0,136.1 535.0,135.3 536.0,134.4 537.0,133.6 538.0,132.8 539.0,131.9 540.0,131.1 541.0,130.2 542.0,129.4 543.0,128.6 544.0,127.7 545.0,126.9 546.0,126.1 547.0,125.2 548.0,124.4 549.0,123.6 550.0,122.7 551.0,121.9 552.0,121.1 553.0,120.3 554.0,119.4 555.0,118.6 556.0,117.8 557.0,117.0 558.0,116.1 559.0,115.3 560.0,114.5 561.0,113.7 562.0,112.8 563.0,112.0 564.0,111.2 565.0,110.4 566.0,109.6 567.0,108.8 568.0,107.9 569.0,107.1 570.0,106.3 571.0,105.5 572.0,104.7 573.0,103.9 574.0,103.1 575.0,102.3 576.0,101.5 577.0,100.7 578.0,99.9 579.0,99.1 580.0,98.3 581.0,97.5 582.0,96.7 583.0,95.9 584.0,95.1 585.0,94.3 586.0,93.5 587.0,92.7 588.0,91.9 589.0,91.2 590.0,90.4 591.0,89.6 592.0,88.8 593.0,88.0 594.0,87.3 595.0,86.5 596.0,85.7 597.0,84.9 598.0,84.2 599.0,83.4 600.0,82.6 601.0,81.9 602.0,81.1 603.0,80.3 604.0,79.6 605.0,78.8 606.0,78.0 607.0,77.3 608.0,76.5 609.0,75.8 610.0,75.0 611.0,74.3 612.0,73.5 613.0,72.8 614.0,72.0 615.0,71.3 616.0,70.5 617.0,69.8 618.0,69.1 619.0,68.3 620.0,67.6 621.0,66.9 622.0,66.1 623.0,65.4 624.0,64.7 625.0,64.0 626.0,63.2 627.0,62.5 628.0,61.8 629.0,61.1 630.0,60.4 631.0,59.7 632.0,59.0 633.0,58.3 634.0,57.5 635.0,56.8 636.0,56.1 637.0,55.4 638.0,54.8 639.0,54.1 640.0,53.4 641.0,52.7 642.0,52.0 643.0,51.3 644.0,50.6 645.0,49.9 646.0,49.3 647.0,48.6 648.0,47.9 649.0,47.3 650.0,46.6 651.0,45.9 652.0,45.3 653.0,44.6 654.0,43.9 655.0,43.3 656.0,42.6 657.0,42.0 658.0,41.3 659.0,40.7 660.0,40.0 661.0,39.4 662.0,38.8 663.0,38.1 664.0,37.5 665.0,36.9 666.0,36.3 667.0,35.6 668.0,35.0 669.0,34.4 670.0,33.8 671.0,33.2 672.0,32.6 673.0,32.0 674.0,31.4 675.0,30.8 676.0,30.2 677.0,29.6 678.0,29.0 679.0,28.4 680.0,27.8 681.0,27.2 682.0,26.6 683.0,26.1 684.0,25.5 685.0,24.9 685.0,28.0 684.0,28.5 683.0,29.1 682.0,29.7 681.0,30.2 680.0,30.8 679.0,31.4 678.0,31.9 677.0,32.5 676.0,33.1 675.0,33.7 674.0,34.2 673.0,34.8 672.0,35.4 671.0,36.0 670.0,36.6 669.0,37.2 668.0,37.8 667.0,38.4 666.0,39.0 665.0,39.6 664.0,40.2 663.0,40.8 662.0,41.4 661.0,42.0 660.0,42.6 659.0,43.3 658.0,43.9 657.0,44.5 656.0,45.1 655.0,45.8 654.0,46.4 653.0,47.0 652.0,47.7 651.0,48.3 650.0,48.9 649.0,49.6 648.0,50.2 647.0,50.9 646.0,51.5 645.0,52.2 644.0,52.8 643.0,53.5 642.0,54.1 641.0,54.8 640.0,55.5 639.0,56.1 638.0,56.8 637.0,57.5 636.0,58.2 635.0,58.8 634.0,59.5 633.0,60.2 632.0,60.9 631.0,61.6 630.0,62.2 629.0,62.9 628.0,63.6 627.0,64.3 626.0,65.0 625.0,65.7 624.0,66.4 623.0,67.1 622.0,67.8 621.0,68.5 620.0,69.2 619.0,69.9 618.0,70.6 617.0,71.4 616.0,72.1 615.0,72.8 614.0,73.5 613.0,74.2 612.0,75.0 611.0,75.7 610.0,76.4 609.0,77.1 608.0,77.9 607.0,78.6 606.0,79.4 605.0,80.1 604.0,80.8 603.0,81.6 602.0,82.3 601.0,83.1 600.0,83.8 599.0,84.6 598.0,85.3 597.0,86.1 596.0,86.8 595.0,87.6 594.0,88.3 593.0,89.1 592.0,89.9 591.0,90.6 590.0,91.4 589.0,92.2 588.0,92.9 587.0,93.7 586.0,94.5 585.0,95.2 584.0,96.0 583.0,96.8 582.0,97.6 581.0,98.4 580.0,99.1 579.0,99.9 578.0,100.7 577.0,101.5 576.0,102.3 575.0,103.1 574.0,103.9 573.0,104.7 572.0,105.5 571.0,106.3 570.0,107.1 569.0,107.9 568.0,108.7 567.0,109.5 566.0,110.4 565.0,111.2 564.0,112.0 563.0,112.8 562.0,113.6 561.0,114.4 560.0,115.3 559.0,116.1 558.0,116.9 557.0,117.7 556.0,118.6 555.0,119.4 554.0,120.2 553.0,121.1 552.0,121.9 551.0,122.7 550.0,123.6 549.0,124.4 548.0,125.3 547.0,126.1 546.0,126.9 545.0,127.8 544.0,128.6 543.0,129.5 542.0,130.3 541.0,131.2 540.0,132.0 539.0,132.9 538.0,133.7 537.0,134.6 536.0,135.5 535.0,136.3 534.0,137.2 533.0,138.0 532.0,138.9 531.0,139.7 530.0,140.6 529.0,141.5 528.0,142.3 527.0,143.2 526.0,144.1 525.0,144.9 524.0,145.8 523.0,146.7 522.0,147.5 521.0,148.4 520.0,149.3 519.0,150.2 518.0,151.0 517.0,151.9 516.0,152.8 515.0,153.7 514.0,154.6 513.0,155.4 512.0,156.3 511.0,157.2 510.0,158.1 509.0,159.0 508.0,159.9 507.0,160.8 506.0,161.7 505.0,162.6 504.0,163.5 503.0,164.4 502.0,165.3 501.0,166.2 500.0,167.1 499.0,168.0 498.0,168.9 497.0,169.8 496.0,170.7 495.0,171.6 494.0,172.5 493.0,173.5 492.0,174.4 491.0,175.3 490.0,176.2 489.0,177.1 488.0,178.0 487.0,178.9 486.0,179.9 485.0,180.8 484.0,181.7 483.0,182.6 482.0,183.5 481.0,184.5 480.0,185.4 479.0,186.3 478.0,187.2 477.0,188.2 476.0,189.1 475.0,190.0 474.0,190.9 473.0,191.9 472.0,192.8 471.0,193.7 470.0,194.6 469.0,195.5 468.0,196.4 467.0,197.4 466.0,198.3 465.0,199.2 464.0,200.2 463.0,201.1 462.0,202.1 461.0,203.1 460.0,204.1 459.0,205.1 458.0,206.2 457.0,207.3 456.0,208.5 455.0,209.7 454.0,210.9 453.0,212.1 452.0,213.4 451.0,214.6 450.0,215.8 449.0,217.0 448.0,218.2 447.0,219.4 446.0,220.5 445.0,221.6 444.0,222.6 443.0,223.6 442.0,224.5 441.0,225.3 440.0,226.0 439.0,226.7 438.0,227.3 437.0,227.9 436.0,228.5 435.0,229.0 434.0,229.6 433.0,230.1 432.0,230.6 431.0,231.0 430.0,231.5 429.0,232.0 428.0,232.4 427.0,232.8 426.0,233.3 425.0,233.7 424.0,234.2 423.0,234.6 422.0,235.1 421.0,235.5 420.0,236.0 419.0,236.5 418.0,237.0 417.0,237.4 416.0,237.9 415.0,238.4 414.0,238.9 413.0,239.4 412.0,239.8 411.0,240.3 410.0,240.8 409.0,241.2 408.0,241.7 407.0,242.2 406.0,242.6 405.0,243.1 404.0,243.5 403.0,244.0" fill="#5382bf" fill-opacity="0.75"/><polygon points="403.0,229.7 404.0,229.1 405.0,228.5 406.0,227.9 407.0,227.4 408.0,226.8 409.0,226.2 410.0,225.7 411.0,225.1 412.0,224.5 413.0,224.0 414.0,223.4 415.0,222.9 416.0,222.3 417.0,221.8 418.0,221.3 419.0,220.7 420.0,220.2 421.0,219.7 422.0,219.2 423.0,218.7 424.0,218.2 425.0,217.7 426.0,217.2 427.0,216.8 428.0,216.3 429.0,215.8 430.0,215.4 431.0,214.9 432.0,214.4 433.0,214.0 434.0,213.5 435.0,213.0 436.0,212.5 437.0,212.0 438.0,211.5 439.0,210.9 440.0,210.4 441.0,209.8 442.0,209.3 443.0,208.7 444.0,208.1 445.0,207.6 446.0,207.0 447.0,206.4 448.0,205.8 449.0,205.2 450.0,204.6 451.0,203.9 452.0,203.3 453.0,202.6 454.0,202.0 455.0,201.3 456.0,200.6 457.0,200.0 458.0,199.3 459.0,198.5 460.0,197.8 461.0,197.1 462.0,196.3 463.0,195.5 464.0,194.7 465.0,193.9 466.0,193.0 467.0,192.1 468.0,191.3 469.0,190.4 470.0,189.5 471.0,188.6 472.0,187.7 473.0,186.8 474.0,186.0 475.0,185.1 476.0,184.3 477.0,183.4 478.0,182.5 479.0,181.7 480.0,180.8 481.0,180.0 482.0,179.1 483.0,178.3 484.0,177.4 485.0,176.6 486.0,175.7 487.0,174.8 488.0,174.0 489.0,173.1 490.0,172.3 491.0,171.4 492.0,170.6 493.0,169.7 494.0,168.8 495.0,168.0 496.0,167.1 497.0,166.3 498.0,165.4 499.0,164.5 500.0,163.7 501.0,162.8 502.0,162.0 503.0,161.1 504.0,160.2 505.0,159.4 506.0,158.5 507.0,157.7 508.0,156.8 509.0,155.9 510.0,155.1 511.0,154.2 512.0,153.4 513.0,152.5 514.0,151.6 515.0,150.8 516.0,149.9 517.0,149.1 518.0,148.2 519.0,147.3 520.0,146.5 521.0,145.6 522.0,144.8 523.0,143.9 524.0,143.1 525.0,142.2 526.0,141.3 527.0,140.5 528.0,139.6 529.0,138.8 530.0,137.9 531.0,137.1 532.0,136.2 533.0,135.3 534.0,134.5 535.0,133.6 536.0,132.8 537.0,131.9 538.0,131.1 539.0,130.2 540.0,129.4 541.0,128.5 542.0,127.7 543.0,126.8 544.0,125.9 545.0,125.1 546.0,124.2 547.0,123.4 548.0,122.5 549.0,121.7 550.0,120.8 551.0,120.0 552.0,119.1 553.0,118.3 554.0,117.4 555.0,116.6 556.0,115.7 557.0,114.9 558.0,114.1 559.0,113.2 560.0,112.4 561.0,111.5 562.0,110.7 563.0,109.8 564.0,109.0 565.0,108.2 566.0,107.3 567.0,106.5 568.0,105.7 569.0,104.8 570.0,104.0 571.0,103.2 572.0,102.3 573.0,101.5 574.0,100.7 575.0,99.8 576.0,99.0 577.0,98.2 578.0,97.3 579.0,96.5 580.0,95.7 581.0,94.9 582.0,94.0 583.0,93.2 584.0,92.4 585.0,91.6 586.0,90.8 587.0,89.9 588.0,89.1 589.0,88.3 590.0,87.5 591.0,86.7 592.0,85.9 593.0,85.1 594.0,84.3 595.0,83.4 596.0,82.6 597.0,81.8 598.0,81.0 599.0,80.2 600.0,79.4 601.0,78.6 602.0,77.8 603.0,77.0 604.0,76.2 605.0,75.4 606.0,74.6 607.0,73.8 608.0,73.0 609.0,72.3 610.0,71.5 611.0,70.7 612.0,69.9 613.0,69.1 614.0,68.3 615.0,67.5 616.0,66.8 617.0,66.0 618.0,65.2 619.0,64.4 620.0,63.6 621.0,62.9 622.0,62.1 623.0,61.3 624.0,60.6 625.0,59.8 626.0,59.0 627.0,58.3 628.0,57.5 629.0,56.8 630.0,56.0 631.0,55.2 632.0,54.5 633.0,53.7 634.0,53.0 635.0,52.2 636.0,51.5 637.0,50.7 638.0,50.0 639.0,49.3 640.0,48.5 641.0,47.8 642.0,47.0 643.0,46.3 644.0,45.6 645.0,44.8 646.0,44.1 647.0,43.4 648.0,42.7 649.0,41.9 650.0,41.2 651.0,40.5 652.0,39.8 653.0,39.1 654.0,38.3 655.0,37.6 656.0,36.9 657.0,36.2 658.0,35.5 659.0,34.8 660.0,34.1 661.0,33.4 662.0,32.7 663.0,32.0 664.0,31.3 665.0,30.6 666.0,30.0 667.0,29.3 668.0,28.6 669.0,27.9 670.0,27.2 671.0,26.6 672.0,25.9 673.0,25.2 674.0,24.5 675.0,23.9 676.0,23.2 677.0,22.6 678.0,21.9 679.0,21.2 680.0,20.6 681.0,19.9 682.0,19.3 683.0,18.6 684.0,18.0 685.0,17.3 685.0,19.8 684.0,20.5 683.0,21.1 682.0,21.8 681.0,22.4 680.0,23.1 679.0,23.7 678.0,24.4 677.0,25.0 676.0,25.7 675.0,26.4 674.0,27.0 673.0,27.7 672.0,28.4 671.0,29.0 670.0,29.7 669.0,30.4 668.0,31.0 667.0,31.7 666.0,32.4 665.0,33.1 664.0,33.7 663.0,34.4 662.0,35.1 661.0,35.8 660.0,36.5 659.0,37.2 658.0,37.9 657.0,38.5 656.0,39.2 655.0,39.9 654.0,40.6 653.0,41.3 652.0,42.0 651.0,42.7 650.0,43.4 649.0,44.1 648.0,44.8 647.0,45.6 646.0,46.3 645.0,47.0 644.0,47.7 643.0,48.4 642.0,49.1 641.0,49.8 640.0,50.6 639.0,51.3 638.0,52.0 637.0,52.7 636.0,53.5 635.0,54.2 634.0,54.9 633.0,55.6 632.0,56.4 631.0,57.1 630.0,57.8 629.0,58.6 628.0,59.3 627.0,60.1 626.0,60.8 625.0,61.6 624.0,62.3 623.0,63.0 622.0,63.8 621.0,64.5 620.0,65.3 619.0,66.0 618.0,66.8 617.0,67.6 616.0,68.3 615.0,69.1 614.0,69.8 613.0,70.6 612.0,71.4 611.0,72.1 610.0,72.9 609.0,73.7 608.0,74.4 607.0,75.2 606.0,76.0 605.0,76.8 604.0,77.5 603.0,78.3 602.0,79.1 601.0,79.9 600.0,80.7 599.0,81.4 598.0,82.2 597.0,83.0 596.0,83.8 595.0,84.6 594.0,85.4 593.0,86.2 592.0,87.0 591.0,87.8 590.0,88.6 589.0,89.4 588.0,90.1 587.0,90.9 586.0,91.7 585.0,92.6 584.0,93.4 583.0,94.2 582.0,95.0 581.0,95.8 580.0,96.6 579.0,97.4 578.0,98.2 577.0,99.0 576.0,99.8 575.0,100.7 574.0,101.5 573.0,102.3 572.0,103.1 571.0,104.0 570.0,104.8 569.0,105.6 568.0,106.4 567.0,107.3 566.0,108.1 565.0,108.9 564.0,109.8 563.0,110.6 562.0,111.5 561.0,112.3 560.0,113.1 559.0,114.0 558.0,114.8 557.0,115.7 556.0,116.5 555.0,117.4 554.0,118.2 553.0,119.1 552.0,119.9 551.0,120.8 550.0,121.6 549.0,122.5 548.0,123.3 547.0,124.2 546.0,125.1 545.0,125.9 544.0,126.8 543.0,127.6 542.0,128.5 541.0,129.4 540.0,130.2 539.0,131.1 538.0,132.0 537.0,132.8 536.0,133.7 535.0,134.6 534.0,135.4 533.0,136.3 532.0,137.2 531.0,138.1 530.0,138.9 529.0,139.8 528.0,140.7 527.0,141.6 526.0,142.4 525.0,143.3 524.0,144.2 523.0,145.1 522.0,146.0 521.0,146.9 520.0,147.7 519.0,148.6 518.0,149.5 517.0,150.4 516.0,151.3 515.0,152.2 514.0,153.1 513.0,154.0 512.0,154.9 511.0,155.8 510.0,156.7 509.0,157.6 508.0,158.5 507.0,159.4 506.0,160.3 505.0,161.2 504.0,162.1 503.0,163.0 502.0,164.0 501.0,164.9 500.0,165.8 499.0,166.7 498.0,167.6 497.0,168.5 496.0,169.4 495.0,170.4 494.0,171.3 493.0,172.2 492.0,173.1 491.0,174.1 490.0,175.0 489.0,175.9 488.0,176.8 487.0,177.8 486.0,178.7 485.0,179.6 484.0,180.5 483.0,181.5 482.0,182.4 481.0,183.3 480.0,184.3 479.0,185.2 478.0,186.2 477.0,187.1 476.0,188.0 475.0,189.0 474.0,189.9 473.0,190.8 472.0,191.8 471.0,192.7 470.0,193.6 469.0,194.6 468.0,195.5 467.0,196.5 466.0,197.4 465.0,198.4 464.0,199.3 463.0,200.3 462.0,201.2 461.0,202.2 460.0,203.2 459.0,204.2 458.0,205.3 457.0,206.4 456.0,207.5 455.0,208.6 454.0,209.8 453.0,210.9 452.0,212.1 451.0,213.2 450.0,214.4 449.0,215.5 448.0,216.6 447.0,217.7 446.0,218.8 445.0,219.8 444.0,220.7 443.0,221.7 442.0,222.5 441.0,223.3 440.0,224.0 439.0,224.7 438.0,225.3 437.0,225.9 436.0,226.4 435.0,227.0 434.0,227.5 433.0,228.0 432.0,228.4 431.0,228.9 430.0,229.3 429.0,229.8 428.0,230.2 427.0,230.7 426.0,231.1 425.0,231.5 424.0,232.0 423.0,232.5 422.0,233.0 421.0,233.5 420.0,234.0 419.0,234.5 418.0,235.1 417.0,235.7 416.0,236.2 415.0,236.8 414.0,237.4 413.0,237.9 412.0,238.5 411.0,239.1 410.0,239.7 409.0,240.3 408.0,240.9 407.0,241.5 406.0,242.1 405.0,242.8 404.0,243.4 403.0,244.0" fill="#ff8a28" fill-opacity="0.75"/><polygon points="403.0,244.0 404.0,243.4 405.0,242.7 406.0,242.0 407.0,241.4 408.0,240.7 409.0,240.0 410.0,239.3 411.0,238.6 412.0,237.9 413.0,237.2 414.0,236.5 415.0,235.8 416.0,235.0 417.0,234.3 418.0,233.5 419.0,232.8 420.0,232.0 421.0,231.2 422.0,230.4 423.0,229.6 424.0,228.8 425.0,228.0 426.0,227.2 427.0,226.3 428.0,225.5 429.0,224.6 430.0,223.8 431.0,222.9 432.0,222.0 433.0,221.1 434.0,220.3 435.0,219.4 436.0,218.5 437.0,217.6 438.0,216.7 439.0,215.9 440.0,215.0 441.0,214.1 442.0,213.3 443.0,212.4 444.0,211.5 445.0,210.6 446.0,209.7 447.0,208.9 448.0,208.0 449.0,207.1 450.0,206.2 451.0,205.3 452.0,204.4 453.0,203.5 454.0,202.6 455.0,201.7 456.0,200.8 457.0,199.9 458.0,199.0 459.0,198.1 460.0,197.2 461.0,196.3 462.0,195.3 463.0,194.4 464.0,193.5 465.0,192.5 466.0,191.6 467.0,190.7 468.0,189.7 469.0,188.8 470.0,187.8 471.0,186.9 472.0,186.0 473.0,185.0 474.0,184.1 475.0,183.2 476.0,182.3 477.0,181.4 478.0,180.5 479.0,179.6 480.0,178.7 481.0,177.8 482.0,176.9 483.0,176.0 484.0,175.1 485.0,174.2 486.0,173.3 487.0,172.4 488.0,171.5 489.0,170.6 490.0,169.7 491.0,168.8 492.0,167.9 493.0,167.1 494.0,166.2 495.0,165.3 496.0,164.4 497.0,163.6 498.0,162.7 499.0,161.8 500.0,161.0 501.0,160.1 502.0,159.2 503.0,158.4 504.0,157.5 505.0,156.6 506.0,155.8 507.0,154.9 508.0,154.1 509.0,153.2 510.0,152.4 511.0,151.5 512.0,150.7 513.0,149.8 514.0,149.0 515.0,148.1 516.0,147.3 517.0,146.5 518.0,145.6 519.0,144.8 520.0,144.0 521.0,143.1 522.0,142.3 523.0,141.5 524.0,140.6 525.0,139.8 526.0,139.0 527.0,138.2 528.0,137.3 529.0,136.5 530.0,135.7 531.0,134.9 532.0,134.1 533.0,133.3 534.0,132.4 535.0,131.6 536.0,130.8 537.0,130.0 538.0,129.2 539.0,128.4 540.0,127.6 541.0,126.8 542.0,126.0 543.0,125.2 544.0,124.4 545.0,123.5 546.0,122.7 547.0,121.9 548.0,121.1 549.0,120.3 550.0,119.5 551.0,118.7 552.0,117.9 553.0,117.1 554.0,116.4 555.0,115.6 556.0,114.8 557.0,114.0 558.0,113.2 559.0,112.4 560.0,111.6 561.0,110.8 562.0,110.0 563.0,109.2 564.0,108.4 565.0,107.6 566.0,106.8 567.0,106.0 568.0,105.3 569.0,104.5 570.0,103.7 571.0,102.9 572.0,102.1 573.0,101.3 574.0,100.6 575.0,99.8 576.0,99.0 577.0,98.2 578.0,97.5 579.0,96.7 580.0,95.9 581.0,95.1 582.0,94.4 583.0,93.6 584.0,92.8 585.0,92.0 586.0,91.3 587.0,90.5 588.0,89.7 589.0,88.9 590.0,88.2 591.0,87.4 592.0,86.6 593.0,85.9 594.0,85.1 595.0,84.3 596.0,83.5 597.0,82.8 598.0,82.0 599.0,81.2 600.0,80.5 601.0,79.7 602.0,78.9 603.0,78.2 604.0,77.4 605.0,76.6 606.0,75.9 607.0,75.1 608.0,74.3 609.0,73.5 610.0,72.8 611.0,72.0 612.0,71.2 613.0,70.5 614.0,69.7 615.0,68.9 616.0,68.2 617.0,67.4 618.0,66.6 619.0,65.9 620.0,65.1 621.0,64.3 622.0,63.6 623.0,62.8 624.0,62.0 625.0,61.2 626.0,60.5 627.0,59.7 628.0,58.9 629.0,58.2 630.0,57.4 631.0,56.6 632.0,55.9 633.0,55.1 634.0,54.3 635.0,53.5 636.0,52.8 637.0,52.0 638.0,51.2 639.0,50.5 640.0,49.7 641.0,48.9 642.0,48.1 643.0,47.4 644.0,46.6 645.0,45.8 646.0,45.0 647.0,44.2 648.0,43.5 649.0,42.7 650.0,41.9 651.0,41.1 652.0,40.4 653.0,39.6 654.0,38.8 655.0,38.0 656.0,37.2 657.0,36.4 658.0,35.7 659.0,34.9 660.0,34.1 661.0,33.3 662.0,32.5 663.0,31.7 664.0,30.9 665.0,30.1 666.0,29.4 667.0,28.6 668.0,27.8 669.0,27.0 670.0,26.2 671.0,25.4 672.0,24.6 673.0,23.8 674.0,23.0 675.0,22.2 676.0,21.4 677.0,20.6 678.0,19.8 679.0,19.0 680.0,18.2 681.0,17.4 682.0,16.6 683.0,15.8 684.0,15.0 685.0,14.2 685.0,19.0 684.0,19.7 683.0,20.4 682.0,21.1 681.0,21.8 680.0,22.5 679.0,23.3 678.0,24.0 677.0,24.7 676.0,25.4 675.0,26.1 674.0,26.8 673.0,27.5 672.0,28.2 671.0,28.9 670.0,29.7 669.0,30.4 668.0,31.1 667.0,31.8 666.0,32.5 665.0,33.3 664.0,34.0 663.0,34.7 662.0,35.4 661.0,36.1 660.0,36.9 659.0,37.6 658.0,38.3 657.0,39.0 656.0,39.8 655.0,40.5 654.0,41.2 653.0,41.9 652.0,42.7 651.0,43.4 650.0,44.1 649.0,44.9 648.0,45.6 647.0,46.3 646.0,47.1 645.0,47.8 644.0,48.5 643.0,49.3 642.0,50.0 641.0,50.8 640.0,51.5 639.0,52.2 638.0,53.0 637.0,53.7 636.0,54.5 635.0,55.2 634.0,56.0 633.0,56.7 632.0,57.4 631.0,58.2 630.0,58.9 629.0,59.7 628.0,60.4 627.0,61.2 626.0,61.9 625.0,62.7 624.0,63.5 623.0,64.2 622.0,65.0 621.0,65.7 620.0,66.5 619.0,67.2 618.0,68.0 617.0,68.8 616.0,69.5 615.0,70.3 614.0,71.1 613.0,71.8 612.0,72.6 611.0,73.4 610.0,74.1 609.0,74.9 608.0,75.7 607.0,76.4 606.0,77.2 605.0,78.0 604.0,78.7 603.0,79.5 602.0,80.3 601.0,81.1 600.0,81.9 599.0,82.6 598.0,83.4 597.0,84.2 596.0,85.0 595.0,85.8 594.0,86.5 593.0,87.3 592.0,88.1 591.0,88.9 590.0,89.7 589.0,90.5 588.0,91.3 587.0,92.0 586.0,92.8 585.0,93.6 584.0,94.4 583.0,95.2 582.0,96.0 581.0,96.8 580.0,97.6 579.0,98.4 578.0,99.2 577.0,100.0 576.0,100.8 575.0,101.6 574.0,102.4 573.0,103.2 572.0,104.0 571.0,104.9 570.0,105.7 569.0,106.5 568.0,107.3 567.0,108.1 566.0,108.9 565.0,109.7 564.0,110.6 563.0,111.4 562.0,112.2 561.0,113.0 560.0,113.9 559.0,114.7 558.0,115.5 557.0,116.3 556.0,117.2 555.0,118.0 554.0,118.8 553.0,119.7 552.0,120.5 551.0,121.3 550.0,122.2 549.0,123.0 548.0,123.9 547.0,124.7 546.0,125.5 545.0,126.4 544.0,127.2 543.0,128.1 542.0,128.9 541.0,129.7 540.0,130.6 539.0,131.4 538.0,132.3 537.0,133.1 536.0,134.0 535.0,134.8 534.0,135.7 533.0,136.6 532.0,137.4 531.0,138.3 530.0,139.1 529.0,140.0 528.0,140.8 527.0,141.7 526.0,142.6 525.0,143.4 524.0,144.3 523.0,145.2 522.0,146.0 521.0,146.9 520.0,147.8 519.0,148.6 518.0,149.5 517.0,150.4 516.0,151.2 515.0,152.1 514.0,153.0 513.0,153.9 512.0,154.8 511.0,155.7 510.0,156.5 509.0,157.4 508.0,158.3 507.0,159.2 506.0,160.1 505.0,161.0 504.0,161.9 503.0,162.8 502.0,163.7 501.0,164.6 500.0,165.5 499.0,166.4 498.0,167.3 497.0,168.2 496.0,169.1 495.0,170.0 494.0,170.9 493.0,171.8 492.0,172.8 491.0,173.7 490.0,174.6 489.0,175.5 488.0,176.4 487.0,177.3 486.0,178.3 485.0,179.2 484.0,180.1 483.0,181.0 482.0,182.0 481.0,182.9 480.0,183.8 479.0,184.8 478.0,185.7 477.0,186.6 476.0,187.6 475.0,188.5 474.0,189.4 473.0,190.4 472.0,191.3 471.0,192.2 470.0,193.1 469.0,194.0 468.0,194.9 467.0,195.8 466.0,196.8 465.0,197.7 464.0,198.7 463.0,199.7 462.0,200.7 461.0,201.7 460.0,202.8 459.0,203.9 458.0,205.0 457.0,206.2 456.0,207.5 455.0,208.7 454.0,210.0 453.0,211.4 452.0,212.7 451.0,214.1 450.0,215.4 449.0,216.8 448.0,218.2 447.0,219.5 446.0,220.8 445.0,222.1 444.0,223.4 443.0,224.6 442.0,225.8 441.0,226.9 440.0,228.0 439.0,229.0 438.0,230.1 437.0,231.1 436.0,232.1 435.0,233.1 434.0,234.1 433.0,235.1 432.0,236.0 431.0,236.9 430.0,237.9 429.0,238.8 428.0,239.6 427.0,240.5 426.0,241.4 425.0,242.2 424.0,243.0 423.0,243.8 422.0,244.5 421.0,245.3 420.0,246.0 419.0,246.7 418.0,247.4 417.0,248.1 416.0,248.7 415.0,249.4 414.0,250.0 413.0,250.6 412.0,251.3 411.0,251.9 410.0,252.4 409.0,253.0 408.0,253.5 407.0,254.1 406.0,254.6 405.0,255.1 404.0,255.5 403.0,256.0" fill="#68bf3e" fill-opacity="0.75"/><polygon points="403.0,244.0 404.0,243.5 405.0,243.0 406.0,242.4 407.0,241.9 408.0,241.3 409.0,240.8 410.0,240.2 411.0,239.6 412.0,239.0 413.0,238.4 414.0,237.8 415.0,237.2 416.0,236.6 417.0,235.9 418.0,235.3 419.0,234.7 420.0,234.0 421.0,233.3 422.0,232.6 423.0,231.9 424.0,231.2 425.0,230.5 426.0,229.7 427.0,229.0 428.0,228.2 429.0,227.4 430.0,226.6 431.0,225.8 432.0,225.1 433.0,224.3 434.0,223.5 435.0,222.7 436.0,221.9 437.0,221.2 438.0,220.4 439.0,219.7 440.0,219.0 441.0,218.3 442.0,217.6 443.0,216.9 444.0,216.3 445.0,215.6 446.0,215.0 447.0,214.3 448.0,213.7 449.0,213.0 450.0,212.4 451.0,211.7 452.0,211.1 453.0,210.4 454.0,209.8 455.0,209.1 456.0,208.4 457.0,207.7 458.0,207.1 459.0,206.3 460.0,205.6 461.0,204.9 462.0,204.1 463.0,203.4 464.0,202.6 465.0,201.8 466.0,201.0 467.0,200.2 468.0,199.4 469.0,198.6 470.0,197.7 471.0,196.9 472.0,196.1 473.0,195.3 474.0,194.5 475.0,193.6 476.0,192.8 477.0,192.0 478.0,191.2 479.0,190.3 480.0,189.5 481.0,188.7 482.0,187.9 483.0,187.0 484.0,186.2 485.0,185.4 486.0,184.5 487.0,183.7 488.0,182.8 489.0,182.0 490.0,181.1 491.0,180.3 492.0,179.5 493.0,178.6 494.0,177.8 495.0,176.9 496.0,176.1 497.0,175.2 498.0,174.3 499.0,173.5 500.0,172.6 501.0,171.8 502.0,170.9 503.0,170.0 504.0,169.2 505.0,168.3 506.0,167.4 507.0,166.6 508.0,165.7 509.0,164.8 510.0,163.9 511.0,163.1 512.0,162.2 513.0,161.3 514.0,160.4 515.0,159.6 516.0,158.7 517.0,157.8 518.0,156.9 519.0,156.0 520.0,155.2 521.0,154.3 522.0,153.4 523.0,152.5 524.0,151.6 525.0,150.8 526.0,149.9 527.0,149.0 528.0,148.1 529.0,147.2 530.0,146.3 531.0,145.4 532.0,144.5 533.0,143.6 534.0,142.8 535.0,141.9 536.0,141.0 537.0,140.1 538.0,139.2 539.0,138.3 540.0,137.4 541.0,136.5 542.0,135.6 543.0,134.7 544.0,133.8 545.0,132.9 546.0,132.0 547.0,131.2 548.0,130.3 549.0,129.4 550.0,128.5 551.0,127.6 552.0,126.7 553.0,125.8 554.0,124.9 555.0,124.0 556.0,123.1 557.0,122.2 558.0,121.4 559.0,120.5 560.0,119.6 561.0,118.7 562.0,117.8 563.0,116.9 564.0,116.1 565.0,115.2 566.0,114.3 567.0,113.4 568.0,112.5 569.0,111.7 570.0,110.8 571.0,109.9 572.0,109.0 573.0,108.1 574.0,107.3 575.0,106.4 576.0,105.5 577.0,104.6 578.0,103.7 579.0,102.9 580.0,102.0 581.0,101.1 582.0,100.3 583.0,99.4 584.0,98.5 585.0,97.7 586.0,96.8 587.0,95.9 588.0,95.1 589.0,94.2 590.0,93.4 591.0,92.5 592.0,91.7 593.0,90.8 594.0,90.0 595.0,89.1 596.0,88.3 597.0,87.4 598.0,86.6 599.0,85.7 600.0,84.9 601.0,84.1 602.0,83.2 603.0,82.4 604.0,81.5 605.0,80.7 606.0,79.9 607.0,79.0 608.0,78.2 609.0,77.4 610.0,76.6 611.0,75.7 612.0,74.9 613.0,74.1 614.0,73.3 615.0,72.5 616.0,71.7 617.0,70.9 618.0,70.1 619.0,69.3 620.0,68.5 621.0,67.7 622.0,66.9 623.0,66.1 624.0,65.3 625.0,64.5 626.0,63.7 627.0,63.0 628.0,62.2 629.0,61.4 630.0,60.6 631.0,59.9 632.0,59.1 633.0,58.3 634.0,57.6 635.0,56.8 636.0,56.0 637.0,55.3 638.0,54.5 639.0,53.8 640.0,53.0 641.0,52.3 642.0,51.6 643.0,50.8 644.0,50.1 645.0,49.4 646.0,48.6 647.0,47.9 648.0,47.2 649.0,46.5 650.0,45.8 651.0,45.1 652.0,44.4 653.0,43.6 654.0,42.9 655.0,42.3 656.0,41.6 657.0,40.9 658.0,40.2 659.0,39.5 660.0,38.8 661.0,38.2 662.0,37.5 663.0,36.8 664.0,36.2 665.0,35.5 666.0,34.9 667.0,34.2 668.0,33.6 669.0,32.9 670.0,32.3 671.0,31.7 672.0,31.0 673.0,30.4 674.0,29.8 675.0,29.2 676.0,28.6 677.0,27.9 678.0,27.3 679.0,26.7 680.0,26.1 681.0,25.5 682.0,25.0 683.0,24.4 684.0,23.8 685.0,23.2 685.0,25.9 684.0,26.5 683.0,27.1 682.0,27.6 681.0,28.2 680.0,28.8 679.0,29.4 678.0,30.0 677.0,30.6 676.0,31.2 675.0,31.8 674.0,32.4 673.0,33.0 672.0,33.6 671.0,34.2 670.0,34.8 669.0,35.4 668.0,36.0 667.0,36.7 666.0,37.3 665.0,37.9 664.0,38.6 663.0,39.2 662.0,39.9 661.0,40.5 660.0,41.2 659.0,41.8 658.0,42.5 657.0,43.2 656.0,43.8 655.0,44.5 654.0,45.2 653.0,45.9 652.0,46.6 651.0,47.3 650.0,48.0 649.0,48.6 648.0,49.3 647.0,50.0 646.0,50.8 645.0,51.5 644.0,52.2 643.0,52.9 642.0,53.6 641.0,54.3 640.0,55.1 639.0,55.8 638.0,56.5 637.0,57.3 636.0,58.0 635.0,58.7 634.0,59.5 633.0,60.2 632.0,61.0 631.0,61.7 630.0,62.5 629.0,63.2 628.0,64.0 627.0,64.8 626.0,65.5 625.0,66.3 624.0,67.1 623.0,67.9 622.0,68.6 621.0,69.4 620.0,70.2 619.0,71.0 618.0,71.8 617.0,72.6 616.0,73.3 615.0,74.1 614.0,74.9 613.0,75.7 612.0,76.6 611.0,77.4 610.0,78.2 609.0,79.0 608.0,79.8 607.0,80.6 606.0,81.4 605.0,82.3 604.0,83.1 603.0,83.9 602.0,84.7 601.0,85.6 600.0,86.4 599.0,87.2 598.0,88.1 597.0,88.9 596.0,89.7 595.0,90.6 594.0,91.4 593.0,92.3 592.0,93.1 591.0,94.0 590.0,94.8 589.0,95.7 588.0,96.5 587.0,97.4 586.0,98.2 585.0,99.1 584.0,99.9 583.0,100.8 582.0,101.7 581.0,102.5 580.0,103.4 579.0,104.3 578.0,105.1 577.0,106.0 576.0,106.9 575.0,107.8 574.0,108.7 573.0,109.5 572.0,110.4 571.0,111.3 570.0,112.2 569.0,113.1 568.0,114.0 567.0,114.8 566.0,115.7 565.0,116.6 564.0,117.5 563.0,118.4 562.0,119.3 561.0,120.2 560.0,121.1 559.0,122.0 558.0,122.9 557.0,123.8 556.0,124.7 555.0,125.6 554.0,126.5 553.0,127.4 552.0,128.3 551.0,129.2 550.0,130.1 549.0,131.0 548.0,131.9 547.0,132.8 546.0,133.7 545.0,134.6 544.0,135.6 543.0,136.5 542.0,137.4 541.0,138.3 540.0,139.2 539.0,140.1 538.0,141.0 537.0,141.9 536.0,142.9 535.0,143.8 534.0,144.7 533.0,145.6 532.0,146.5 531.0,147.4 530.0,148.3 529.0,149.3 528.0,150.2 527.0,151.1 526.0,152.0 525.0,152.9 524.0,153.8 523.0,154.8 522.0,155.7 521.0,156.6 520.0,157.5 519.0,158.4 518.0,159.3 517.0,160.2 516.0,161.1 515.0,162.1 514.0,163.0 513.0,163.9 512.0,164.8 511.0,165.7 510.0,166.6 509.0,167.6 508.0,168.5 507.0,169.4 506.0,170.3 505.0,171.2 504.0,172.2 503.0,173.1 502.0,174.0 501.0,174.9 500.0,175.8 499.0,176.7 498.0,177.6 497.0,178.5 496.0,179.4 495.0,180.4 494.0,181.3 493.0,182.2 492.0,183.1 491.0,184.0 490.0,184.9 489.0,185.8 488.0,186.7 487.0,187.6 486.0,188.5 485.0,189.4 484.0,190.3 483.0,191.2 482.0,192.1 481.0,193.0 480.0,193.9 479.0,194.8 478.0,195.7 477.0,196.6 476.0,197.5 475.0,198.4 474.0,199.3 473.0,200.1 472.0,201.0 471.0,201.9 470.0,202.7 469.0,203.6 468.0,204.4 467.0,205.3 466.0,206.1 465.0,207.0 464.0,207.9 463.0,208.8 462.0,209.7 461.0,210.6 460.0,211.6 459.0,212.6 458.0,213.7 457.0,214.7 456.0,215.8 455.0,216.9 454.0,218.1 453.0,219.3 452.0,220.4 451.0,221.6 450.0,222.8 449.0,224.0 448.0,225.2 447.0,226.3 446.0,227.5 445.0,228.7 444.0,229.8 443.0,230.9 442.0,232.0 441.0,233.0 440.0,234.0 439.0,235.0 438.0,236.0 437.0,236.9 436.0,237.9 435.0,238.9 434.0,239.8 433.0,240.8 432.0,241.7 431.0,242.7 430.0,243.6 429.0,244.5 428.0,245.4 427.0,246.2 426.0,247.1 425.0,247.9 424.0,248.7 423.0,249.4 422.0,250.2 421.0,250.9 420.0,251.6 419.0,252.3 418.0,252.9 417.0,253.6 416.0,254.2 415.0,254.8 414.0,255.4 413.0,256.0 412.0,256.6 411.0,257.2 410.0,257.7 409.0,258.2 408.0,258.7 407.0,259.2 406.0,259.7 405.0,260.2 404.0,260.6 403.0,261.0" fill="#e0442a" fill-opacity="0.75"/><polygon points="403.0,242.6 404.0,241.9 405.0,241.2 406.0,240.4 407.0,239.7 408.0,239.0 409.0,238.3 410.0,237.6 411.0,236.9 412.0,236.2 413.0,235.5 414.0,234.8 415.0,234.1 416.0,233.4 417.0,232.7 418.0,232.0 419.0,231.4 420.0,230.7 421.0,230.0 422.0,229.4 423.0,228.7 424.0,228.1 425.0,227.5 426.0,226.8 427.0,226.2 428.0,225.6 429.0,225.0 430.0,224.4 431.0,223.8 432.0,223.1 433.0,222.5 434.0,221.9 435.0,221.2 436.0,220.6 437.0,219.9 438.0,219.3 439.0,218.6 440.0,217.9 441.0,217.2 442.0,216.5 443.0,215.8 444.0,215.0 445.0,214.3 446.0,213.6 447.0,212.8 448.0,212.1 449.0,211.3 450.0,210.5 451.0,209.8 452.0,209.0 453.0,208.2 454.0,207.4 455.0,206.6 456.0,205.8 457.0,205.0 458.0,204.1 459.0,203.3 460.0,202.5 461.0,201.6 462.0,200.7 463.0,199.9 464.0,198.9 465.0,198.0 466.0,197.1 467.0,196.2 468.0,195.2 469.0,194.3 470.0,193.4 471.0,192.4 472.0,191.5 473.0,190.5 474.0,189.6 475.0,188.7 476.0,187.8 477.0,186.9 478.0,186.0 479.0,185.1 480.0,184.2 481.0,183.3 482.0,182.4 483.0,181.5 484.0,180.6 485.0,179.7 486.0,178.7 487.0,177.8 488.0,176.9 489.0,176.0 490.0,175.2 491.0,174.3 492.0,173.4 493.0,172.5 494.0,171.6 495.0,170.7 496.0,169.8 497.0,168.9 498.0,168.0 499.0,167.1 500.0,166.2 501.0,165.3 502.0,164.4 503.0,163.6 504.0,162.7 505.0,161.8 506.0,160.9 507.0,160.0 508.0,159.1 509.0,158.3 510.0,157.4 511.0,156.5 512.0,155.6 513.0,154.7 514.0,153.9 515.0,153.0 516.0,152.1 517.0,151.2 518.0,150.4 519.0,149.5 520.0,148.6 521.0,147.8 522.0,146.9 523.0,146.1 524.0,145.2 525.0,144.3 526.0,143.5 527.0,142.6 528.0,141.7 529.0,140.9 530.0,140.0 531.0,139.2 532.0,138.3 533.0,137.5 534.0,136.6 535.0,135.7 536.0,134.9 537.0,134.0 538.0,133.2 539.0,132.3 540.0,131.5 541.0,130.6 542.0,129.8 543.0,128.9 544.0,128.1 545.0,127.2 546.0,126.4 547.0,125.6 548.0,124.7 549.0,123.9 550.0,123.0 551.0,122.2 552.0,121.3 553.0,120.5 554.0,119.7 555.0,118.8 556.0,118.0 557.0,117.2 558.0,116.3 559.0,115.5 560.0,114.7 561.0,113.8 562.0,113.0 563.0,112.2 564.0,111.3 565.0,110.5 566.0,109.7 567.0,108.8 568.0,108.0 569.0,107.2 570.0,106.4 571.0,105.6 572.0,104.7 573.0,103.9 574.0,103.1 575.0,102.3 576.0,101.5 577.0,100.7 578.0,99.9 579.0,99.0 580.0,98.2 581.0,97.4 582.0,96.6 583.0,95.8 584.0,95.0 585.0,94.2 586.0,93.4 587.0,92.6 588.0,91.8 589.0,91.0 590.0,90.2 591.0,89.4 592.0,88.6 593.0,87.8 594.0,87.0 595.0,86.2 596.0,85.4 597.0,84.6 598.0,83.9 599.0,83.1 600.0,82.3 601.0,81.5 602.0,80.7 603.0,79.9 604.0,79.1 605.0,78.4 606.0,77.6 607.0,76.8 608.0,76.0 609.0,75.2 610.0,74.5 611.0,73.7 612.0,72.9 613.0,72.1 614.0,71.4 615.0,70.6 616.0,69.8 617.0,69.0 618.0,68.3 619.0,67.5 620.0,66.7 621.0,66.0 622.0,65.2 623.0,64.5 624.0,63.7 625.0,62.9 626.0,62.2 627.0,61.4 628.0,60.7 629.0,59.9 630.0,59.1 631.0,58.4 632.0,57.6 633.0,56.9 634.0,56.1 635.0,55.4 636.0,54.6 637.0,53.9 638.0,53.2 639.0,52.4 640.0,51.7 641.0,50.9 642.0,50.2 643.0,49.4 644.0,48.7 645.0,48.0 646.0,47.2 647.0,46.5 648.0,45.8 649.0,45.0 650.0,44.3 651.0,43.6 652.0,42.8 653.0,42.1 654.0,41.4 655.0,40.7 656.0,39.9 657.0,39.2 658.0,38.5 659.0,37.8 660.0,37.1 661.0,36.3 662.0,35.6 663.0,34.9 664.0,34.2 665.0,33.5 666.0,32.8 667.0,32.1 668.0,31.4 669.0,30.6 670.0,29.9 671.0,29.2 672.0,28.5 673.0,27.8 674.0,27.1 675.0,26.4 676.0,25.7 677.0,25.0 678.0,24.3 679.0,23.6 680.0,22.9 681.0,22.2 682.0,21.6 683.0,20.9 684.0,20.2 685.0,19.5 685.0,23.4 684.0,24.0 683.0,24.7 682.0,25.3 681.0,25.9 680.0,26.5 679.0,27.2 678.0,27.8 677.0,28.4 676.0,29.1 675.0,29.7 674.0,30.3 673.0,31.0 672.0,31.6 671.0,32.3 670.0,32.9 669.0,33.6 668.0,34.2 667.0,34.9 666.0,35.5 665.0,36.2 664.0,36.9 663.0,37.5 662.0,38.2 661.0,38.9 660.0,39.5 659.0,40.2 658.0,40.9 657.0,41.5 656.0,42.2 655.0,42.9 654.0,43.6 653.0,44.3 652.0,45.0 651.0,45.6 650.0,46.3 649.0,47.0 648.0,47.7 647.0,48.4 646.0,49.1 645.0,49.8 644.0,50.5 643.0,51.2 642.0,51.9 641.0,52.7 640.0,53.4 639.0,54.1 638.0,54.8 637.0,55.5 636.0,56.2 635.0,56.9 634.0,57.7 633.0,58.4 632.0,59.1 631.0,59.8 630.0,60.6 629.0,61.3 628.0,62.0 627.0,62.8 626.0,63.5 625.0,64.3 624.0,65.0 623.0,65.7 622.0,66.5 621.0,67.2 620.0,68.0 619.0,68.7 618.0,69.5 617.0,70.2 616.0,71.0 615.0,71.7 614.0,72.5 613.0,73.3 612.0,74.0 611.0,74.8 610.0,75.6 609.0,76.3 608.0,77.1 607.0,77.9 606.0,78.6 605.0,79.4 604.0,80.2 603.0,81.0 602.0,81.7 601.0,82.5 600.0,83.3 599.0,84.1 598.0,84.9 597.0,85.7 596.0,86.5 595.0,87.2 594.0,88.0 593.0,88.8 592.0,89.6 591.0,90.4 590.0,91.2 589.0,92.0 588.0,92.8 587.0,93.6 586.0,94.4 585.0,95.2 584.0,96.0 583.0,96.8 582.0,97.6 581.0,98.4 580.0,99.3 579.0,100.1 578.0,100.9 577.0,101.7 576.0,102.5 575.0,103.3 574.0,104.2 573.0,105.0 572.0,105.8 571.0,106.6 570.0,107.5 569.0,108.3 568.0,109.1 567.0,110.0 566.0,110.8 565.0,111.6 564.0,112.5 563.0,113.3 562.0,114.2 561.0,115.0 560.0,115.8 559.0,116.7 558.0,117.5 557.0,118.4 556.0,119.2 555.0,120.1 554.0,120.9 553.0,121.8 552.0,122.6 551.0,123.5 550.0,124.3 549.0,125.2 548.0,126.1 547.0,126.9 546.0,127.8 545.0,128.6 544.0,129.5 543.0,130.4 542.0,131.2 541.0,132.1 540.0,132.9 539.0,133.8 538.0,134.7 537.0,135.6 536.0,136.4 535.0,137.3 534.0,138.2 533.0,139.0 532.0,139.9 531.0,140.8 530.0,141.7 529.0,142.5 528.0,143.4 527.0,144.3 526.0,145.2 525.0,146.0 524.0,146.9 523.0,147.8 522.0,148.7 521.0,149.6 520.0,150.4 519.0,151.3 518.0,152.2 517.0,153.1 516.0,154.0 515.0,154.9 514.0,155.8 513.0,156.7 512.0,157.6 511.0,158.4 510.0,159.3 509.0,160.2 508.0,161.1 507.0,162.0 506.0,162.9 505.0,163.8 504.0,164.8 503.0,165.7 502.0,166.6 501.0,167.5 500.0,168.4 499.0,169.3 498.0,170.2 497.0,171.1 496.0,172.0 495.0,172.9 494.0,173.8 493.0,174.7 492.0,175.6 491.0,176.6 490.0,177.5 489.0,178.4 488.0,179.3 487.0,180.2 486.0,181.1 485.0,182.0 484.0,183.0 483.0,183.9 482.0,184.8 481.0,185.7 480.0,186.6 479.0,187.6 478.0,188.5 477.0,189.4 476.0,190.3 475.0,191.2 474.0,192.2 473.0,193.1 472.0,194.0 471.0,194.9 470.0,195.8 469.0,196.6 468.0,197.5 467.0,198.4 466.0,199.4 465.0,200.3 464.0,201.2 463.0,202.2 462.0,203.1 461.0,204.1 460.0,205.2 459.0,206.2 458.0,207.4 457.0,208.5 456.0,209.7 455.0,210.9 454.0,212.2 453.0,213.5 452.0,214.8 451.0,216.1 450.0,217.4 449.0,218.7 448.0,220.0 447.0,221.2 446.0,222.5 445.0,223.7 444.0,224.8 443.0,226.0 442.0,227.0 441.0,228.0 440.0,229.0 439.0,229.9 438.0,230.8 437.0,231.6 436.0,232.5 435.0,233.3 434.0,234.1 433.0,234.8 432.0,235.6 431.0,236.3 430.0,237.1 429.0,237.8 428.0,238.5 427.0,239.2 426.0,239.9 425.0,240.6 424.0,241.3 423.0,241.9 422.0,242.6 421.0,243.3 420.0,244.0 419.0,244.7 418.0,245.4 417.0,246.1 416.0,246.7 415.0,247.4 414.0,248.1 413.0,248.7 412.0,249.4 411.0,250.0 410.0,250.7 409.0,251.3 408.0,251.9 407.0,252.6 406.0,253.2 405.0,253.8 404.0,254.4 403.0,255.0" fill="#9c6ed2" fill-opacity="0.75"/><polygon points="403.0,244.5 404.0,244.0 405.0,243.5 406.0,242.9 407.0,242.4 408.0,241.8 409.0,241.2 410.0,240.7 411.0,240.1 412.0,239.5 413.0,238.9 414.0,238.3 415.0,237.6 416.0,237.0 417.0,236.4 418.0,235.7 419.0,235.1 420.0,234.4 421.0,233.7 422.0,233.0 423.0,232.3 424.0,231.6 425.0,230.8 426.0,230.1 427.0,229.3 428.0,228.5 429.0,227.8 430.0,227.0 431.0,226.2 432.0,225.4 433.0,224.6 434.0,223.8 435.0,223.0 436.0,222.2 437.0,221.4 438.0,220.6 439.0,219.8 440.0,219.0 441.0,218.2 442.0,217.5 443.0,216.7 444.0,215.9 445.0,215.2 446.0,214.4 447.0,213.6 448.0,212.8 449.0,212.1 450.0,211.3 451.0,210.5 452.0,209.8 453.0,209.0 454.0,208.2 455.0,207.4 456.0,206.6 457.0,205.8 458.0,205.0 459.0,204.2 460.0,203.4 461.0,202.6 462.0,201.7 463.0,200.9 464.0,200.1 465.0,199.2 466.0,198.4 467.0,197.5 468.0,196.6 469.0,195.8 470.0,194.9 471.0,194.0 472.0,193.1 473.0,192.3 474.0,191.4 475.0,190.5 476.0,189.7 477.0,188.8 478.0,188.0 479.0,187.1 480.0,186.2 481.0,185.4 482.0,184.5 483.0,183.6 484.0,182.8 485.0,181.9 486.0,181.0 487.0,180.1 488.0,179.3 489.0,178.4 490.0,177.5 491.0,176.7 492.0,175.8 493.0,174.9 494.0,174.0 495.0,173.2 496.0,172.3 497.0,171.4 498.0,170.6 499.0,169.7 500.0,168.8 501.0,167.9 502.0,167.1 503.0,166.2 504.0,165.3 505.0,164.4 506.0,163.6 507.0,162.7 508.0,161.8 509.0,160.9 510.0,160.0 511.0,159.2 512.0,158.3 513.0,157.4 514.0,156.5 515.0,155.7 516.0,154.8 517.0,153.9 518.0,153.0 519.0,152.2 520.0,151.3 521.0,150.4 522.0,149.6 523.0,148.7 524.0,147.8 525.0,146.9 526.0,146.1 527.0,145.2 528.0,144.3 529.0,143.5 530.0,142.6 531.0,141.7 532.0,140.8 533.0,140.0 534.0,139.1 535.0,138.2 536.0,137.4 537.0,136.5 538.0,135.6 539.0,134.8 540.0,133.9 541.0,133.0 542.0,132.2 543.0,131.3 544.0,130.4 545.0,129.6 546.0,128.7 547.0,127.8 548.0,127.0 549.0,126.1 550.0,125.2 551.0,124.4 552.0,123.5 553.0,122.6 554.0,121.8 555.0,120.9 556.0,120.1 557.0,119.2 558.0,118.4 559.0,117.5 560.0,116.6 561.0,115.8 562.0,114.9 563.0,114.1 564.0,113.2 565.0,112.4 566.0,111.5 567.0,110.7 568.0,109.9 569.0,109.0 570.0,108.2 571.0,107.3 572.0,106.5 573.0,105.6 574.0,104.8 575.0,104.0 576.0,103.1 577.0,102.3 578.0,101.5 579.0,100.6 580.0,99.8 581.0,99.0 582.0,98.1 583.0,97.3 584.0,96.5 585.0,95.7 586.0,94.8 587.0,94.0 588.0,93.2 589.0,92.4 590.0,91.6 591.0,90.7 592.0,89.9 593.0,89.1 594.0,88.3 595.0,87.5 596.0,86.7 597.0,85.9 598.0,85.1 599.0,84.3 600.0,83.5 601.0,82.7 602.0,81.9 603.0,81.1 604.0,80.3 605.0,79.5 606.0,78.7 607.0,77.9 608.0,77.1 609.0,76.3 610.0,75.6 611.0,74.8 612.0,74.0 613.0,73.2 614.0,72.4 615.0,71.7 616.0,70.9 617.0,70.1 618.0,69.4 619.0,68.6 620.0,67.8 621.0,67.1 622.0,66.3 623.0,65.5 624.0,64.8 625.0,64.0 626.0,63.3 627.0,62.5 628.0,61.8 629.0,61.0 630.0,60.3 631.0,59.6 632.0,58.8 633.0,58.1 634.0,57.4 635.0,56.6 636.0,55.9 637.0,55.2 638.0,54.4 639.0,53.7 640.0,53.0 641.0,52.3 642.0,51.6 643.0,50.9 644.0,50.1 645.0,49.4 646.0,48.7 647.0,48.0 648.0,47.3 649.0,46.6 650.0,45.9 651.0,45.2 652.0,44.6 653.0,43.9 654.0,43.2 655.0,42.5 656.0,41.8 657.0,41.2 658.0,40.5 659.0,39.8 660.0,39.1 661.0,38.5 662.0,37.8 663.0,37.2 664.0,36.5 665.0,35.9 666.0,35.2 667.0,34.6 668.0,33.9 669.0,33.3 670.0,32.7 671.0,32.0 672.0,31.4 673.0,30.8 674.0,30.1 675.0,29.5 676.0,28.9 677.0,28.3 678.0,27.7 679.0,27.1 680.0,26.4 681.0,25.8 682.0,25.2 683.0,24.6 684.0,24.0 685.0,23.4 685.0,26.4 684.0,27.0 683.0,27.5 682.0,28.0 681.0,28.6 680.0,29.1 679.0,29.7 678.0,30.2 677.0,30.8 676.0,31.4 675.0,31.9 674.0,32.5 673.0,33.1 672.0,33.7 671.0,34.2 670.0,34.8 669.0,35.4 668.0,36.0 667.0,36.6 666.0,37.2 665.0,37.8 664.0,38.4 663.0,39.0 662.0,39.7 661.0,40.3 660.0,40.9 659.0,41.5 658.0,42.2 657.0,42.8 656.0,43.5 655.0,44.1 654.0,44.8 653.0,45.4 652.0,46.1 651.0,46.7 650.0,47.4 649.0,48.1 648.0,48.7 647.0,49.4 646.0,50.1 645.0,50.8 644.0,51.5 643.0,52.1 642.0,52.8 641.0,53.5 640.0,54.2 639.0,54.9 638.0,55.6 637.0,56.3 636.0,57.1 635.0,57.8 634.0,58.5 633.0,59.2 632.0,59.9 631.0,60.7 630.0,61.4 629.0,62.1 628.0,62.9 627.0,63.6 626.0,64.4 625.0,65.1 624.0,65.9 623.0,66.6 622.0,67.4 621.0,68.1 620.0,68.9 619.0,69.6 618.0,70.4 617.0,71.2 616.0,71.9 615.0,72.7 614.0,73.5 613.0,74.3 612.0,75.1 611.0,75.9 610.0,76.6 609.0,77.4 608.0,78.2 607.0,79.0 606.0,79.8 605.0,80.6 604.0,81.4 603.0,82.2 602.0,83.1 601.0,83.9 600.0,84.7 599.0,85.5 598.0,86.3 597.0,87.1 596.0,88.0 595.0,88.8 594.0,89.6 593.0,90.4 592.0,91.3 591.0,92.1 590.0,92.9 589.0,93.8 588.0,94.6 587.0,95.4 586.0,96.3 585.0,97.1 584.0,98.0 583.0,98.8 582.0,99.7 581.0,100.5 580.0,101.4 579.0,102.2 578.0,103.1 577.0,104.0 576.0,104.8 575.0,105.7 574.0,106.6 573.0,107.4 572.0,108.3 571.0,109.2 570.0,110.1 569.0,110.9 568.0,111.8 567.0,112.7 566.0,113.6 565.0,114.5 564.0,115.3 563.0,116.2 562.0,117.1 561.0,118.0 560.0,118.9 559.0,119.8 558.0,120.7 557.0,121.6 556.0,122.5 555.0,123.4 554.0,124.3 553.0,125.2 552.0,126.1 551.0,127.0 550.0,127.9 549.0,128.8 548.0,129.7 547.0,130.6 546.0,131.5 545.0,132.4 544.0,133.3 543.0,134.2 542.0,135.2 541.0,136.1 540.0,137.0 539.0,137.9 538.0,138.8 537.0,139.7 536.0,140.6 535.0,141.6 534.0,142.5 533.0,143.4 532.0,144.3 531.0,145.2 530.0,146.2 529.0,147.1 528.0,148.0 527.0,148.9 526.0,149.8 525.0,150.8 524.0,151.7 523.0,152.6 522.0,153.5 521.0,154.5 520.0,155.4 519.0,156.3 518.0,157.2 517.0,158.1 516.0,159.1 515.0,160.0 514.0,160.9 513.0,161.9 512.0,162.8 511.0,163.7 510.0,164.7 509.0,165.6 508.0,166.5 507.0,167.5 506.0,168.4 505.0,169.3 504.0,170.3 503.0,171.2 502.0,172.1 501.0,173.1 500.0,174.0 499.0,174.9 498.0,175.9 497.0,176.8 496.0,177.7 495.0,178.7 494.0,179.6 493.0,180.5 492.0,181.4 491.0,182.4 490.0,183.3 489.0,184.2 488.0,185.2 487.0,186.1 486.0,187.0 485.0,188.0 484.0,188.9 483.0,189.8 482.0,190.8 481.0,191.7 480.0,192.6 479.0,193.5 478.0,194.5 477.0,195.4 476.0,196.3 475.0,197.2 474.0,198.2 473.0,199.1 472.0,200.0 471.0,200.9 470.0,201.8 469.0,202.7 468.0,203.6 467.0,204.5 466.0,205.4 465.0,206.3 464.0,207.2 463.0,208.2 462.0,209.1 461.0,210.1 460.0,211.0 459.0,212.0 458.0,213.0 457.0,214.0 456.0,215.1 455.0,216.1 454.0,217.2 453.0,218.3 452.0,219.4 451.0,220.4 450.0,221.5 449.0,222.6 448.0,223.7 447.0,224.8 446.0,225.9 445.0,226.9 444.0,228.0 443.0,229.0 442.0,230.0 441.0,231.0 440.0,232.0 439.0,233.0 438.0,233.9 437.0,234.9 436.0,235.9 435.0,236.9 434.0,237.8 433.0,238.8 432.0,239.8 431.0,240.7 430.0,241.7 429.0,242.6 428.0,243.5 427.0,244.4 426.0,245.3 425.0,246.1 424.0,246.9 423.0,247.7 422.0,248.5 421.0,249.3 420.0,250.0 419.0,250.7 418.0,251.4 417.0,252.1 416.0,252.7 415.0,253.4 414.0,254.0 413.0,254.6 412.0,255.3 411.0,255.9 410.0,256.4 409.0,257.0 408.0,257.5 407.0,258.1 406.0,258.6 405.0,259.1 404.0,259.5 403.0,260.0" fill="#835446" fill-opacity="0.75"/><polygon points="403.0,253.5 404.0,253.0 405.0,252.4 406.0,251.9 407.0,251.3 408.0,250.8 409.0,250.2 410.0,249.6 411.0,249.0 412.0,248.4 413.0,247.8 414.0,247.2 415.0,246.6 416.0,246.0 417.0,245.3 418.0,244.7 419.0,244.1 420.0,243.4 421.0,242.7 422.0,242.1 423.0,241.4 424.0,240.7 425.0,240.0 426.0,239.3 427.0,238.5 428.0,237.8 429.0,237.1 430.0,236.3 431.0,235.6 432.0,234.8 433.0,234.0 434.0,233.2 435.0,232.4 436.0,231.7 437.0,230.9 438.0,230.0 439.0,229.2 440.0,228.4 441.0,227.6 442.0,226.7 443.0,225.8 444.0,224.9 445.0,224.0 446.0,223.1 447.0,222.2 448.0,221.2 449.0,220.3 450.0,219.3 451.0,218.3 452.0,217.4 453.0,216.4 454.0,215.5 455.0,214.5 456.0,213.6 457.0,212.7 458.0,211.8 459.0,210.9 460.0,210.0 461.0,209.1 462.0,208.2 463.0,207.4 464.0,206.6 465.0,205.7 466.0,204.9 467.0,204.1 468.0,203.2 469.0,202.4 470.0,201.6 471.0,200.8 472.0,199.9 473.0,199.1 474.0,198.3 475.0,197.4 476.0,196.6 477.0,195.7 478.0,194.9 479.0,194.0 480.0,193.2 481.0,192.3 482.0,191.4 483.0,190.6 484.0,189.7 485.0,188.9 486.0,188.0 487.0,187.1 488.0,186.3 489.0,185.4 490.0,184.5 491.0,183.7 492.0,182.8 493.0,181.9 494.0,181.0 495.0,180.2 496.0,179.3 497.0,178.4 498.0,177.5 499.0,176.7 500.0,175.8 501.0,174.9 502.0,174.0 503.0,173.1 504.0,172.3 505.0,171.4 506.0,170.5 507.0,169.6 508.0,168.7 509.0,167.8 510.0,166.9 511.0,166.0 512.0,165.1 513.0,164.3 514.0,163.4 515.0,162.5 516.0,161.6 517.0,160.7 518.0,159.8 519.0,158.9 520.0,158.0 521.0,157.1 522.0,156.2 523.0,155.3 524.0,154.4 525.0,153.5 526.0,152.6 527.0,151.7 528.0,150.8 529.0,149.9 530.0,149.0 531.0,148.1 532.0,147.2 533.0,146.3 534.0,145.4 535.0,144.5 536.0,143.6 537.0,142.7 538.0,141.8 539.0,140.9 540.0,140.0 541.0,139.1 542.0,138.2 543.0,137.3 544.0,136.4 545.0,135.5 546.0,134.6 547.0,133.7 548.0,132.8 549.0,131.9 550.0,131.0 551.0,130.1 552.0,129.2 553.0,128.3 554.0,127.4 555.0,126.5 556.0,125.6 557.0,124.7 558.0,123.8 559.0,122.9 560.0,122.0 561.0,121.1 562.0,120.2 563.0,119.3 564.0,118.4 565.0,117.5 566.0,116.6 567.0,115.7 568.0,114.8 569.0,113.9 570.0,113.0 571.0,112.1 572.0,111.2 573.0,110.3 574.0,109.4 575.0,108.5 576.0,107.6 577.0,106.7 578.0,105.8 579.0,104.9 580.0,104.1 581.0,103.2 582.0,102.3 583.0,101.4 584.0,100.5 585.0,99.6 586.0,98.7 587.0,97.8 588.0,97.0 589.0,96.1 590.0,95.2 591.0,94.3 592.0,93.5 593.0,92.6 594.0,91.7 595.0,90.8 596.0,90.0 597.0,89.1 598.0,88.2 599.0,87.3 600.0,86.5 601.0,85.6 602.0,84.7 603.0,83.9 604.0,83.0 605.0,82.1 606.0,81.3 607.0,80.4 608.0,79.5 609.0,78.7 610.0,77.8 611.0,77.0 612.0,76.1 613.0,75.2 614.0,74.4 615.0,73.5 616.0,72.7 617.0,71.8 618.0,71.0 619.0,70.2 620.0,69.3 621.0,68.5 622.0,67.6 623.0,66.8 624.0,66.0 625.0,65.1 626.0,64.3 627.0,63.5 628.0,62.6 629.0,61.8 630.0,61.0 631.0,60.2 632.0,59.4 633.0,58.5 634.0,57.7 635.0,56.9 636.0,56.1 637.0,55.3 638.0,54.5 639.0,53.7 640.0,52.8 641.0,52.0 642.0,51.2 643.0,50.4 644.0,49.6 645.0,48.9 646.0,48.1 647.0,47.3 648.0,46.5 649.0,45.7 650.0,44.9 651.0,44.1 652.0,43.4 653.0,42.6 654.0,41.8 655.0,41.0 656.0,40.3 657.0,39.5 658.0,38.7 659.0,38.0 660.0,37.2 661.0,36.4 662.0,35.7 663.0,34.9 664.0,34.2 665.0,33.4 666.0,32.7 667.0,32.0 668.0,31.2 669.0,30.5 670.0,29.8 671.0,29.0 672.0,28.3 673.0,27.6 674.0,26.9 675.0,26.1 676.0,25.4 677.0,24.7 678.0,24.0 679.0,23.3 680.0,22.6 681.0,21.9 682.0,21.2 683.0,20.5 684.0,19.8 685.0,19.1 685.0,25.1 684.0,25.7 683.0,26.3 682.0,26.9 681.0,27.4 680.0,28.0 679.0,28.6 678.0,29.2 677.0,29.8 676.0,30.4 675.0,31.1 674.0,31.7 673.0,32.3 672.0,32.9 671.0,33.6 670.0,34.2 669.0,34.8 668.0,35.5 667.0,36.1 666.0,36.8 665.0,37.4 664.0,38.1 663.0,38.7 662.0,39.4 661.0,40.0 660.0,40.7 659.0,41.4 658.0,42.1 657.0,42.8 656.0,43.4 655.0,44.1 654.0,44.8 653.0,45.5 652.0,46.2 651.0,46.9 650.0,47.7 649.0,48.4 648.0,49.1 647.0,49.8 646.0,50.5 645.0,51.3 644.0,52.0 643.0,52.7 642.0,53.5 641.0,54.2 640.0,54.9 639.0,55.7 638.0,56.4 637.0,57.2 636.0,57.9 635.0,58.7 634.0,59.5 633.0,60.2 632.0,61.0 631.0,61.8 630.0,62.6 629.0,63.3 628.0,64.1 627.0,64.9 626.0,65.7 625.0,66.5 624.0,67.3 623.0,68.1 622.0,68.9 621.0,69.7 620.0,70.5 619.0,71.3 618.0,72.1 617.0,72.9 616.0,73.7 615.0,74.5 614.0,75.3 613.0,76.2 612.0,77.0 611.0,77.8 610.0,78.7 609.0,79.5 608.0,80.3 607.0,81.2 606.0,82.0 605.0,82.9 604.0,83.7 603.0,84.6 602.0,85.4 601.0,86.3 600.0,87.1 599.0,88.0 598.0,88.8 597.0,89.7 596.0,90.6 595.0,91.4 594.0,92.3 593.0,93.2 592.0,94.0 591.0,94.9 590.0,95.8 589.0,96.6 588.0,97.5 587.0,98.4 586.0,99.3 585.0,100.2 584.0,101.0 583.0,101.9 582.0,102.8 581.0,103.7 580.0,104.6 579.0,105.5 578.0,106.4 577.0,107.3 576.0,108.2 575.0,109.1 574.0,110.0 573.0,110.9 572.0,111.8 571.0,112.8 570.0,113.7 569.0,114.6 568.0,115.5 567.0,116.4 566.0,117.3 565.0,118.3 564.0,119.2 563.0,120.1 562.0,121.0 561.0,121.9 560.0,122.9 559.0,123.8 558.0,124.7 557.0,125.7 556.0,126.6 555.0,127.5 554.0,128.5 553.0,129.4 552.0,130.3 551.0,131.3 550.0,132.2 549.0,133.1 548.0,134.1 547.0,135.0 546.0,136.0 545.0,136.9 544.0,137.9 543.0,138.8 542.0,139.7 541.0,140.7 540.0,141.6 539.0,142.6 538.0,143.5 537.0,144.5 536.0,145.4 535.0,146.4 534.0,147.3 533.0,148.3 532.0,149.2 531.0,150.2 530.0,151.1 529.0,152.1 528.0,153.0 527.0,154.0 526.0,154.9 525.0,155.9 524.0,156.8 523.0,157.8 522.0,158.7 521.0,159.7 520.0,160.6 519.0,161.6 518.0,162.5 517.0,163.5 516.0,164.5 515.0,165.4 514.0,166.4 513.0,167.3 512.0,168.3 511.0,169.2 510.0,170.2 509.0,171.2 508.0,172.1 507.0,173.1 506.0,174.0 505.0,175.0 504.0,176.0 503.0,176.9 502.0,177.9 501.0,178.8 500.0,179.8 499.0,180.7 498.0,181.7 497.0,182.6 496.0,183.6 495.0,184.6 494.0,185.5 493.0,186.5 492.0,187.4 491.0,188.4 490.0,189.3 489.0,190.3 488.0,191.2 487.0,192.2 486.0,193.1 485.0,194.1 484.0,195.0 483.0,196.0 482.0,196.9 481.0,197.9 480.0,198.8 479.0,199.8 478.0,200.7 477.0,201.6 476.0,202.6 475.0,203.5 474.0,204.5 473.0,205.4 472.0,206.3 471.0,207.3 470.0,208.2 469.0,209.1 468.0,210.0 467.0,211.0 466.0,211.9 465.0,212.8 464.0,213.8 463.0,214.7 462.0,215.6 461.0,216.6 460.0,217.5 459.0,218.5 458.0,219.5 457.0,220.4 456.0,221.4 455.0,222.4 454.0,223.4 453.0,224.4 452.0,225.4 451.0,226.4 450.0,227.3 449.0,228.3 448.0,229.3 447.0,230.3 446.0,231.3 445.0,232.3 444.0,233.2 443.0,234.2 442.0,235.1 441.0,236.1 440.0,237.0 439.0,237.9 438.0,238.8 437.0,239.8 436.0,240.7 435.0,241.6 434.0,242.5 433.0,243.4 432.0,244.3 431.0,245.2 430.0,246.1 429.0,247.0 428.0,247.9 427.0,248.7 426.0,249.6 425.0,250.4 424.0,251.3 423.0,252.1 422.0,252.9 421.0,253.7 420.0,254.5 419.0,255.3 418.0,256.0 417.0,256.8 416.0,257.6 415.0,258.3 414.0,259.0 413.0,259.8 412.0,260.5 411.0,261.2 410.0,261.9 409.0,262.6 408.0,263.2 407.0,263.9 406.0,264.6 405.0,265.2 404.0,265.9 403.0,266.5" fill="#e380cb" fill-opacity="0.75"/><line x1="473.91" y1="216.10" x2="473.91" y2="225.00" stroke="#0000ff" stroke-opacity="0.75" stroke-width="1.1"/><line x1="475.80" y1="216.10" x2="475.80" y2="225.00" stroke="#0000ff" stroke-opacity="0.75" stroke-width="1.1"/><line x1="481.70" y1="216.10" x2="481.70" y2="225.00" stroke="#0000ff" stroke-opacity="0.75" stroke-width="1.1"/><line x1="483.89" y1="216.10" x2="483.89" y2="225.00" stroke="#0000ff" stroke-opacity="0.75" stroke-width="1.1"/><line x1="485.39" y1="216.10" x2="485.39" y2="225.00" stroke="#0000ff" stroke-opacity="0.75" stroke-width="1.1"/><line x1="488.89" y1="216.10" x2="488.89" y2="225.00" stroke="#0000ff" stroke-opacity="0.75" stroke-width="1.1"/><line x1="490.48" y1="216.10" x2="490.48" y2="225.00" stroke="#0000ff" stroke-opacity="0.75" stroke-width="1.1"/><line x1="497.17" y1="216.10" x2="497.17" y2="225.00" stroke="#0000ff" stroke-opacity="0.75" stroke-width="1.1"/><line x1="506.06" y1="216.10" x2="506.06" y2="225.00" stroke="#0000ff" stroke-opacity="0.75" stroke-width="1.1"/><line x1="507.46" y1="216.10" x2="507.46" y2="225.00" stroke="#0000ff" stroke-opacity="0.75" stroke-width="1.1"/><line x1="512.85" y1="216.10" x2="512.85" y2="225.00" stroke="#0000ff" stroke-opacity="0.75" stroke-width="1.1"/><line x1="518.25" y1="216.10" x2="518.25" y2="225.00" stroke="#0000ff" stroke-opacity="0.75" stroke-width="1.1"/><line x1="519.24" y1="216.10" x2="519.24" y2="225.00" stroke="#0000ff" stroke-opacity="0.75" stroke-width="1.1"/><line x1="522.94" y1="216.10" x2="522.94" y2="225.00" stroke="#0000ff" stroke-opacity="0.75" stroke-width="1.1"/><line x1="536.22" y1="216.10" x2="536.22" y2="225.00" stroke="#0000ff" stroke-opacity="0.75" stroke-width="1.1"/><line x1="547.31" y1="216.10" x2="547.31" y2="225.00" stroke="#0000ff" stroke-opacity="0.75" stroke-width="1.1"/><line x1="549.00" y1="216.10" x2="549.00" y2="225.00" stroke="#0000ff" stroke-opacity="0.75" stroke-width="1.1"/><line x1="550.60" y1="216.10" x2="550.60" y2="225.00" stroke="#0000ff" stroke-opacity="0.75" stroke-width="1.1"/><line x1="553.10" y1="216.10" x2="553.10" y2="225.00" stroke="#0000ff" stroke-opacity="0.75" stroke-width="1.1"/><line x1="554.60" y1="216.10" x2="554.60" y2="225.00" stroke="#0000ff" stroke-opacity="0.75" stroke-width="1.1"/><line x1="558.79" y1="216.10" x2="558.79" y2="225.00" stroke="#0000ff" stroke-opacity="0.75" stroke-width="1.1"/><line x1="565.78" y1="216.10" x2="565.78" y2="225.00" stroke="#0000ff" stroke-opacity="0.75" stroke-width="1.1"/><line x1="573.97" y1="216.10" x2="573.97" y2="225.00" stroke="#0000ff" stroke-opacity="0.75" stroke-width="1.1"/><line x1="575.27" y1="216.10" x2="575.27" y2="225.00" stroke="#0000ff" stroke-opacity="0.75" stroke-width="1.1"/><line x1="576.27" y1="216.10" x2="576.27" y2="225.00" stroke="#0000ff" stroke-opacity="0.75" stroke-width="1.1"/><line x1="516.35" y1="225.10" x2="516.35" y2="234.00" stroke="#ffa500" stroke-opacity="0.8" stroke-width="1.1"/><line x1="527.23" y1="225.10" x2="527.23" y2="234.00" stroke="#ffa500" stroke-opacity="0.8" stroke-width="1.1"/><line x1="569.28" y1="225.10" x2="569.28" y2="234.00" stroke="#ffa500" stroke-opacity="0.8" stroke-width="1.1"/><line x1="575.07" y1="225.10" x2="575.07" y2="234.00" stroke="#ffa500" stroke-opacity="0.8" stroke-width="1.1"/><line x1="575.97" y1="225.10" x2="575.97" y2="234.00" stroke="#ffa500" stroke-opacity="0.8" stroke-width="1.1"/><line x1="580.56" y1="225.10" x2="580.56" y2="234.00" stroke="#ffa500" stroke-opacity="0.8" stroke-width="1.1"/><line x1="582.36" y1="225.10" x2="582.36" y2="234.00" stroke="#ffa500" stroke-opacity="0.8" stroke-width="1.1"/><line x1="586.25" y1="225.10" x2="586.25" y2="234.00" stroke="#ffa500" stroke-opacity="0.8" stroke-width="1.1"/><line x1="593.74" y1="225.10" x2="593.74" y2="234.00" stroke="#ffa500" stroke-opacity="0.8" stroke-width="1.1"/><line x1="596.94" y1="225.10" x2="596.94" y2="234.00" stroke="#ffa500" stroke-opacity="0.8" stroke-width="1.1"/><line x1="604.43" y1="225.10" x2="604.43" y2="234.00" stroke="#ffa500" stroke-opacity="0.8" stroke-width="1.1"/><line x1="606.23" y1="225.10" x2="606.23" y2="234.00" stroke="#ffa500" stroke-opacity="0.8" stroke-width="1.1"/><line x1="611.32" y1="225.10" x2="611.32" y2="234.00" stroke="#ffa500" stroke-opacity="0.8" stroke-width="1.1"/><line x1="612.72" y1="225.10" x2="612.72" y2="234.00" stroke="#ffa500" stroke-opacity="0.8" stroke-width="1.1"/><line x1="614.02" y1="225.10" x2="614.02" y2="234.00" stroke="#ffa500" stroke-opacity="0.8" stroke-width="1.1"/><line x1="615.32" y1="225.10" x2="615.32" y2="234.00" stroke="#ffa500" stroke-opacity="0.8" stroke-width="1.1"/><line x1="625.50" y1="225.10" x2="625.50" y2="234.00" stroke="#ffa500" stroke-opacity="0.8" stroke-width="1.1"/><line x1="500.57" y1="234.10" x2="500.57" y2="243.00" stroke="#008000" stroke-opacity="0.75" stroke-width="1.1"/><line x1="513.15" y1="234.10" x2="513.15" y2="243.00" stroke="#008000" stroke-opacity="0.75" stroke-width="1.1"/><line x1="541.61" y1="234.10" x2="541.61" y2="243.00" stroke="#008000" stroke-opacity="0.75" stroke-width="1.1"/><line x1="546.11" y1="234.10" x2="546.11" y2="243.00" stroke="#008000" stroke-opacity="0.75" stroke-width="1.1"/><line x1="556.20" y1="234.10" x2="556.20" y2="243.00" stroke="#008000" stroke-opacity="0.75" stroke-width="1.1"/><line x1="568.08" y1="234.10" x2="568.08" y2="243.00" stroke="#008000" stroke-opacity="0.75" stroke-width="1.1"/><line x1="573.97" y1="234.10" x2="573.97" y2="243.00" stroke="#008000" stroke-opacity="0.75" stroke-width="1.1"/><line x1="595.14" y1="234.10" x2="595.14" y2="243.00" stroke="#008000" stroke-opacity="0.75" stroke-width="1.1"/><line x1="602.23" y1="234.10" x2="602.23" y2="243.00" stroke="#008000" stroke-opacity="0.75" stroke-width="1.1"/><line x1="603.73" y1="234.10" x2="603.73" y2="243.00" stroke="#008000" stroke-opacity="0.75" stroke-width="1.1"/><line x1="605.23" y1="234.10" x2="605.23" y2="243.00" stroke="#008000" stroke-opacity="0.75" stroke-width="1.1"/><line x1="608.92" y1="234.10" x2="608.92" y2="243.00" stroke="#008000" stroke-opacity="0.75" stroke-width="1.1"/><line x1="613.42" y1="234.10" x2="613.42" y2="243.00" stroke="#008000" stroke-opacity="0.75" stroke-width="1.1"/><line x1="621.71" y1="234.10" x2="621.71" y2="243.00" stroke="#008000" stroke-opacity="0.75" stroke-width="1.1"/><line x1="627.10" y1="234.10" x2="627.10" y2="243.00" stroke="#008000" stroke-opacity="0.75" stroke-width="1.1"/><line x1="630.60" y1="234.10" x2="630.60" y2="243.00" stroke="#008000" stroke-opacity="0.75" stroke-width="1.1"/><line x1="637.89" y1="234.10" x2="637.89" y2="243.00" stroke="#008000" stroke-opacity="0.75" stroke-width="1.1"/><line x1="639.88" y1="234.10" x2="639.88" y2="243.00" stroke="#008000" stroke-opacity="0.75" stroke-width="1.1"/><line x1="646.87" y1="234.10" x2="646.87" y2="243.00" stroke="#008000" stroke-opacity="0.75" stroke-width="1.1"/><line x1="648.67" y1="234.10" x2="648.67" y2="243.00" stroke="#008000" stroke-opacity="0.75" stroke-width="1.1"/><line x1="449.34" y1="243.10" x2="449.34" y2="252.00" stroke="#ff0000" stroke-opacity="0.75" stroke-width="1.1"/><line x1="491.18" y1="243.10" x2="491.18" y2="252.00" stroke="#ff0000" stroke-opacity="0.75" stroke-width="1.1"/><line x1="507.76" y1="243.10" x2="507.76" y2="252.00" stroke="#ff0000" stroke-opacity="0.75" stroke-width="1.1"/><line x1="531.73" y1="243.10" x2="531.73" y2="252.00" stroke="#ff0000" stroke-opacity="0.75" stroke-width="1.1"/><line x1="559.39" y1="243.10" x2="559.39" y2="252.00" stroke="#ff0000" stroke-opacity="0.75" stroke-width="1.1"/><line x1="561.39" y1="243.10" x2="561.39" y2="252.00" stroke="#ff0000" stroke-opacity="0.75" stroke-width="1.1"/><line x1="581.96" y1="243.10" x2="581.96" y2="252.00" stroke="#ff0000" stroke-opacity="0.75" stroke-width="1.1"/><line x1="586.15" y1="243.10" x2="586.15" y2="252.00" stroke="#ff0000" stroke-opacity="0.75" stroke-width="1.1"/><line x1="587.75" y1="243.10" x2="587.75" y2="252.00" stroke="#ff0000" stroke-opacity="0.75" stroke-width="1.1"/><line x1="589.55" y1="243.10" x2="589.55" y2="252.00" stroke="#ff0000" stroke-opacity="0.75" stroke-width="1.1"/><line x1="596.24" y1="243.10" x2="596.24" y2="252.00" stroke="#ff0000" stroke-opacity="0.75" stroke-width="1.1"/><line x1="604.23" y1="243.10" x2="604.23" y2="252.00" stroke="#ff0000" stroke-opacity="0.75" stroke-width="1.1"/><line x1="605.93" y1="243.10" x2="605.93" y2="252.00" stroke="#ff0000" stroke-opacity="0.75" stroke-width="1.1"/><line x1="609.22" y1="243.10" x2="609.22" y2="252.00" stroke="#ff0000" stroke-opacity="0.75" stroke-width="1.1"/><line x1="611.22" y1="243.10" x2="611.22" y2="252.00" stroke="#ff0000" stroke-opacity="0.75" stroke-width="1.1"/><line x1="612.72" y1="243.10" x2="612.72" y2="252.00" stroke="#ff0000" stroke-opacity="0.75" stroke-width="1.1"/><line x1="614.32" y1="243.10" x2="614.32" y2="252.00" stroke="#ff0000" stroke-opacity="0.75" stroke-width="1.1"/><line x1="616.11" y1="243.10" x2="616.11" y2="252.00" stroke="#ff0000" stroke-opacity="0.75" stroke-width="1.1"/><line x1="619.81" y1="243.10" x2="619.81" y2="252.00" stroke="#ff0000" stroke-opacity="0.75" stroke-width="1.1"/><line x1="626.40" y1="243.10" x2="626.40" y2="252.00" stroke="#ff0000" stroke-opacity="0.75" stroke-width="1.1"/><line x1="627.70" y1="243.10" x2="627.70" y2="252.00" stroke="#ff0000" stroke-opacity="0.75" stroke-width="1.1"/><line x1="628.90" y1="243.10" x2="628.90" y2="252.00" stroke="#ff0000" stroke-opacity="0.75" stroke-width="1.1"/><line x1="632.99" y1="243.10" x2="632.99" y2="252.00" stroke="#ff0000" stroke-opacity="0.75" stroke-width="1.1"/><line x1="635.19" y1="243.10" x2="635.19" y2="252.00" stroke="#ff0000" stroke-opacity="0.75" stroke-width="1.1"/><line x1="637.19" y1="243.10" x2="637.19" y2="252.00" stroke="#ff0000" stroke-opacity="0.75" stroke-width="1.1"/><line x1="639.18" y1="243.10" x2="639.18" y2="252.00" stroke="#ff0000" stroke-opacity="0.75" stroke-width="1.1"/><line x1="640.88" y1="243.10" x2="640.88" y2="252.00" stroke="#ff0000" stroke-opacity="0.75" stroke-width="1.1"/><line x1="647.47" y1="243.10" x2="647.47" y2="252.00" stroke="#ff0000" stroke-opacity="0.75" stroke-width="1.1"/><line x1="651.17" y1="243.10" x2="651.17" y2="252.00" stroke="#ff0000" stroke-opacity="0.75" stroke-width="1.1"/><line x1="428.77" y1="252.10" x2="428.77" y2="261.00" stroke="#9467bd" stroke-opacity="0.8" stroke-width="1.1"/><line x1="471.11" y1="252.10" x2="471.11" y2="261.00" stroke="#9467bd" stroke-opacity="0.8" stroke-width="1.1"/><line x1="477.80" y1="252.10" x2="477.80" y2="261.00" stroke="#9467bd" stroke-opacity="0.8" stroke-width="1.1"/><line x1="481.40" y1="252.10" x2="481.40" y2="261.00" stroke="#9467bd" stroke-opacity="0.8" stroke-width="1.1"/><line x1="506.36" y1="252.10" x2="506.36" y2="261.00" stroke="#9467bd" stroke-opacity="0.8" stroke-width="1.1"/><line x1="515.35" y1="252.10" x2="515.35" y2="261.00" stroke="#9467bd" stroke-opacity="0.8" stroke-width="1.1"/><line x1="524.64" y1="252.10" x2="524.64" y2="261.00" stroke="#9467bd" stroke-opacity="0.8" stroke-width="1.1"/><line x1="526.14" y1="252.10" x2="526.14" y2="261.00" stroke="#9467bd" stroke-opacity="0.8" stroke-width="1.1"/><line x1="527.23" y1="252.10" x2="527.23" y2="261.00" stroke="#9467bd" stroke-opacity="0.8" stroke-width="1.1"/><line x1="529.13" y1="252.10" x2="529.13" y2="261.00" stroke="#9467bd" stroke-opacity="0.8" stroke-width="1.1"/><line x1="532.63" y1="252.10" x2="532.63" y2="261.00" stroke="#9467bd" stroke-opacity="0.8" stroke-width="1.1"/><line x1="534.12" y1="252.10" x2="534.12" y2="261.00" stroke="#9467bd" stroke-opacity="0.8" stroke-width="1.1"/><line x1="546.81" y1="252.10" x2="546.81" y2="261.00" stroke="#9467bd" stroke-opacity="0.8" stroke-width="1.1"/><line x1="548.71" y1="252.10" x2="548.71" y2="261.00" stroke="#9467bd" stroke-opacity="0.8" stroke-width="1.1"/><line x1="549.50" y1="252.10" x2="549.50" y2="261.00" stroke="#9467bd" stroke-opacity="0.8" stroke-width="1.1"/><line x1="552.30" y1="252.10" x2="552.30" y2="261.00" stroke="#9467bd" stroke-opacity="0.8" stroke-width="1.1"/><line x1="556.20" y1="252.10" x2="556.20" y2="261.00" stroke="#9467bd" stroke-opacity="0.8" stroke-width="1.1"/><line x1="559.59" y1="252.10" x2="559.59" y2="261.00" stroke="#9467bd" stroke-opacity="0.8" stroke-width="1.1"/><line x1="564.38" y1="252.10" x2="564.38" y2="261.00" stroke="#9467bd" stroke-opacity="0.8" stroke-width="1.1"/><line x1="566.08" y1="252.10" x2="566.08" y2="261.00" stroke="#9467bd" stroke-opacity="0.8" stroke-width="1.1"/><line x1="569.78" y1="252.10" x2="569.78" y2="261.00" stroke="#9467bd" stroke-opacity="0.8" stroke-width="1.1"/><line x1="575.87" y1="252.10" x2="575.87" y2="261.00" stroke="#9467bd" stroke-opacity="0.8" stroke-width="1.1"/><line x1="580.06" y1="252.10" x2="580.06" y2="261.00" stroke="#9467bd" stroke-opacity="0.8" stroke-width="1.1"/><line x1="582.16" y1="252.10" x2="582.16" y2="261.00" stroke="#9467bd" stroke-opacity="0.8" stroke-width="1.1"/><line x1="584.26" y1="252.10" x2="584.26" y2="261.00" stroke="#9467bd" stroke-opacity="0.8" stroke-width="1.1"/><line x1="589.45" y1="252.10" x2="589.45" y2="261.00" stroke="#9467bd" stroke-opacity="0.8" stroke-width="1.1"/><line x1="595.24" y1="252.10" x2="595.24" y2="261.00" stroke="#9467bd" stroke-opacity="0.8" stroke-width="1.1"/><line x1="597.84" y1="252.10" x2="597.84" y2="261.00" stroke="#9467bd" stroke-opacity="0.8" stroke-width="1.1"/><line x1="599.84" y1="252.10" x2="599.84" y2="261.00" stroke="#9467bd" stroke-opacity="0.8" stroke-width="1.1"/><line x1="603.03" y1="252.10" x2="603.03" y2="261.00" stroke="#9467bd" stroke-opacity="0.8" stroke-width="1.1"/><line x1="605.13" y1="252.10" x2="605.13" y2="261.00" stroke="#9467bd" stroke-opacity="0.8" stroke-width="1.1"/><line x1="607.23" y1="252.10" x2="607.23" y2="261.00" stroke="#9467bd" stroke-opacity="0.8" stroke-width="1.1"/><line x1="609.22" y1="252.10" x2="609.22" y2="261.00" stroke="#9467bd" stroke-opacity="0.8" stroke-width="1.1"/><line x1="611.22" y1="252.10" x2="611.22" y2="261.00" stroke="#9467bd" stroke-opacity="0.8" stroke-width="1.1"/><line x1="613.22" y1="252.10" x2="613.22" y2="261.00" stroke="#9467bd" stroke-opacity="0.8" stroke-width="1.1"/><line x1="615.22" y1="252.10" x2="615.22" y2="261.00" stroke="#9467bd" stroke-opacity="0.8" stroke-width="1.1"/><line x1="617.21" y1="252.10" x2="617.21" y2="261.00" stroke="#9467bd" stroke-opacity="0.8" stroke-width="1.1"/><line x1="619.21" y1="252.10" x2="619.21" y2="261.00" stroke="#9467bd" stroke-opacity="0.8" stroke-width="1.1"/><line x1="622.71" y1="252.10" x2="622.71" y2="261.00" stroke="#9467bd" stroke-opacity="0.8" stroke-width="1.1"/><line x1="624.70" y1="252.10" x2="624.70" y2="261.00" stroke="#9467bd" stroke-opacity="0.8" stroke-width="1.1"/><line x1="626.70" y1="252.10" x2="626.70" y2="261.00" stroke="#9467bd" stroke-opacity="0.8" stroke-width="1.1"/><line x1="628.70" y1="252.10" x2="628.70" y2="261.00" stroke="#9467bd" stroke-opacity="0.8" stroke-width="1.1"/><line x1="630.69" y1="252.10" x2="630.69" y2="261.00" stroke="#9467bd" stroke-opacity="0.8" stroke-width="1.1"/><line x1="631.89" y1="252.10" x2="631.89" y2="261.00" stroke="#9467bd" stroke-opacity="0.8" stroke-width="1.1"/><line x1="634.19" y1="252.10" x2="634.19" y2="261.00" stroke="#9467bd" stroke-opacity="0.8" stroke-width="1.1"/><line x1="636.19" y1="252.10" x2="636.19" y2="261.00" stroke="#9467bd" stroke-opacity="0.8" stroke-width="1.1"/><line x1="638.18" y1="252.10" x2="638.18" y2="261.00" stroke="#9467bd" stroke-opacity="0.8" stroke-width="1.1"/><line x1="640.18" y1="252.10" x2="640.18" y2="261.00" stroke="#9467bd" stroke-opacity="0.8" stroke-width="1.1"/><line x1="645.18" y1="252.10" x2="645.18" y2="261.00" stroke="#9467bd" stroke-opacity="0.8" stroke-width="1.1"/><line x1="647.17" y1="252.10" x2="647.17" y2="261.00" stroke="#9467bd" stroke-opacity="0.8" stroke-width="1.1"/><line x1="648.97" y1="252.10" x2="648.97" y2="261.00" stroke="#9467bd" stroke-opacity="0.8" stroke-width="1.1"/><line x1="662.25" y1="252.10" x2="662.25" y2="261.00" stroke="#9467bd" stroke-opacity="0.8" stroke-width="1.1"/><line x1="462.52" y1="261.10" x2="462.52" y2="270.00" stroke="#8c564b" stroke-opacity="0.8" stroke-width="1.1"/><line x1="554.40" y1="261.10" x2="554.40" y2="270.00" stroke="#8c564b" stroke-opacity="0.8" stroke-width="1.1"/><line x1="556.49" y1="261.10" x2="556.49" y2="270.00" stroke="#8c564b" stroke-opacity="0.8" stroke-width="1.1"/><line x1="567.78" y1="261.10" x2="567.78" y2="270.00" stroke="#8c564b" stroke-opacity="0.8" stroke-width="1.1"/><line x1="569.28" y1="261.10" x2="569.28" y2="270.00" stroke="#8c564b" stroke-opacity="0.8" stroke-width="1.1"/><line x1="574.97" y1="261.10" x2="574.97" y2="270.00" stroke="#8c564b" stroke-opacity="0.8" stroke-width="1.1"/><line x1="579.76" y1="261.10" x2="579.76" y2="270.00" stroke="#8c564b" stroke-opacity="0.8" stroke-width="1.1"/><line x1="587.75" y1="261.10" x2="587.75" y2="270.00" stroke="#8c564b" stroke-opacity="0.8" stroke-width="1.1"/><line x1="589.25" y1="261.10" x2="589.25" y2="270.00" stroke="#8c564b" stroke-opacity="0.8" stroke-width="1.1"/><line x1="592.75" y1="261.10" x2="592.75" y2="270.00" stroke="#8c564b" stroke-opacity="0.8" stroke-width="1.1"/><line x1="594.24" y1="261.10" x2="594.24" y2="270.00" stroke="#8c564b" stroke-opacity="0.8" stroke-width="1.1"/><line x1="598.24" y1="261.10" x2="598.24" y2="270.00" stroke="#8c564b" stroke-opacity="0.8" stroke-width="1.1"/><line x1="599.74" y1="261.10" x2="599.74" y2="270.00" stroke="#8c564b" stroke-opacity="0.8" stroke-width="1.1"/><line x1="601.73" y1="261.10" x2="601.73" y2="270.00" stroke="#8c564b" stroke-opacity="0.8" stroke-width="1.1"/><line x1="603.73" y1="261.10" x2="603.73" y2="270.00" stroke="#8c564b" stroke-opacity="0.8" stroke-width="1.1"/><line x1="605.73" y1="261.10" x2="605.73" y2="270.00" stroke="#8c564b" stroke-opacity="0.8" stroke-width="1.1"/><line x1="607.73" y1="261.10" x2="607.73" y2="270.00" stroke="#8c564b" stroke-opacity="0.8" stroke-width="1.1"/><line x1="611.02" y1="261.10" x2="611.02" y2="270.00" stroke="#8c564b" stroke-opacity="0.8" stroke-width="1.1"/><line x1="612.52" y1="261.10" x2="612.52" y2="270.00" stroke="#8c564b" stroke-opacity="0.8" stroke-width="1.1"/><line x1="613.92" y1="261.10" x2="613.92" y2="270.00" stroke="#8c564b" stroke-opacity="0.8" stroke-width="1.1"/><line x1="616.71" y1="261.10" x2="616.71" y2="270.00" stroke="#8c564b" stroke-opacity="0.8" stroke-width="1.1"/><line x1="624.70" y1="261.10" x2="624.70" y2="270.00" stroke="#8c564b" stroke-opacity="0.8" stroke-width="1.1"/><line x1="626.20" y1="261.10" x2="626.20" y2="270.00" stroke="#8c564b" stroke-opacity="0.8" stroke-width="1.1"/><line x1="627.70" y1="261.10" x2="627.70" y2="270.00" stroke="#8c564b" stroke-opacity="0.8" stroke-width="1.1"/><line x1="629.70" y1="261.10" x2="629.70" y2="270.00" stroke="#8c564b" stroke-opacity="0.8" stroke-width="1.1"/><line x1="631.69" y1="261.10" x2="631.69" y2="270.00" stroke="#8c564b" stroke-opacity="0.8" stroke-width="1.1"/><line x1="633.69" y1="261.10" x2="633.69" y2="270.00" stroke="#8c564b" stroke-opacity="0.8" stroke-width="1.1"/><line x1="635.19" y1="261.10" x2="635.19" y2="270.00" stroke="#8c564b" stroke-opacity="0.8" stroke-width="1.1"/><line x1="494.08" y1="270.10" x2="494.08" y2="279.00" stroke="#e377c2" stroke-opacity="0.8" stroke-width="1.1"/><line x1="511.56" y1="270.10" x2="511.56" y2="279.00" stroke="#e377c2" stroke-opacity="0.8" stroke-width="1.1"/><line x1="525.14" y1="270.10" x2="525.14" y2="279.00" stroke="#e377c2" stroke-opacity="0.8" stroke-width="1.1"/><line x1="535.82" y1="270.10" x2="535.82" y2="279.00" stroke="#e377c2" stroke-opacity="0.8" stroke-width="1.1"/><line x1="540.42" y1="270.10" x2="540.42" y2="279.00" stroke="#e377c2" stroke-opacity="0.8" stroke-width="1.1"/><line x1="555.70" y1="270.10" x2="555.70" y2="279.00" stroke="#e377c2" stroke-opacity="0.8" stroke-width="1.1"/><line x1="561.79" y1="270.10" x2="561.79" y2="279.00" stroke="#e377c2" stroke-opacity="0.8" stroke-width="1.1"/><line x1="568.78" y1="270.10" x2="568.78" y2="279.00" stroke="#e377c2" stroke-opacity="0.8" stroke-width="1.1"/><line x1="570.28" y1="270.10" x2="570.28" y2="279.00" stroke="#e377c2" stroke-opacity="0.8" stroke-width="1.1"/><line x1="571.77" y1="270.10" x2="571.77" y2="279.00" stroke="#e377c2" stroke-opacity="0.8" stroke-width="1.1"/><line x1="578.76" y1="270.10" x2="578.76" y2="279.00" stroke="#e377c2" stroke-opacity="0.8" stroke-width="1.1"/><line x1="580.76" y1="270.10" x2="580.76" y2="279.00" stroke="#e377c2" stroke-opacity="0.8" stroke-width="1.1"/><line x1="582.46" y1="270.10" x2="582.46" y2="279.00" stroke="#e377c2" stroke-opacity="0.8" stroke-width="1.1"/><line x1="588.55" y1="270.10" x2="588.55" y2="279.00" stroke="#e377c2" stroke-opacity="0.8" stroke-width="1.1"/><line x1="592.55" y1="270.10" x2="592.55" y2="279.00" stroke="#e377c2" stroke-opacity="0.8" stroke-width="1.1"/><line x1="596.74" y1="270.10" x2="596.74" y2="279.00" stroke="#e377c2" stroke-opacity="0.8" stroke-width="1.1"/><line x1="598.24" y1="270.10" x2="598.24" y2="279.00" stroke="#e377c2" stroke-opacity="0.8" stroke-width="1.1"/><line x1="601.53" y1="270.10" x2="601.53" y2="279.00" stroke="#e377c2" stroke-opacity="0.8" stroke-width="1.1"/><line x1="605.23" y1="270.10" x2="605.23" y2="279.00" stroke="#e377c2" stroke-opacity="0.8" stroke-width="1.1"/><line x1="606.73" y1="270.10" x2="606.73" y2="279.00" stroke="#e377c2" stroke-opacity="0.8" stroke-width="1.1"/><line x1="608.23" y1="270.10" x2="608.23" y2="279.00" stroke="#e377c2" stroke-opacity="0.8" stroke-width="1.1"/><line x1="609.72" y1="270.10" x2="609.72" y2="279.00" stroke="#e377c2" stroke-opacity="0.8" stroke-width="1.1"/><line x1="611.72" y1="270.10" x2="611.72" y2="279.00" stroke="#e377c2" stroke-opacity="0.8" stroke-width="1.1"/><line x1="613.72" y1="270.10" x2="613.72" y2="279.00" stroke="#e377c2" stroke-opacity="0.8" stroke-width="1.1"/><line x1="615.72" y1="270.10" x2="615.72" y2="279.00" stroke="#e377c2" stroke-opacity="0.8" stroke-width="1.1"/><line x1="617.71" y1="270.10" x2="617.71" y2="279.00" stroke="#e377c2" stroke-opacity="0.8" stroke-width="1.1"/><line x1="619.71" y1="270.10" x2="619.71" y2="279.00" stroke="#e377c2" stroke-opacity="0.8" stroke-width="1.1"/><line x1="621.71" y1="270.10" x2="621.71" y2="279.00" stroke="#e377c2" stroke-opacity="0.8" stroke-width="1.1"/><line x1="623.70" y1="270.10" x2="623.70" y2="279.00" stroke="#e377c2" stroke-opacity="0.8" stroke-width="1.1"/><line x1="625.70" y1="270.10" x2="625.70" y2="279.00" stroke="#e377c2" stroke-opacity="0.8" stroke-width="1.1"/><line x1="627.70" y1="270.10" x2="627.70" y2="279.00" stroke="#e377c2" stroke-opacity="0.8" stroke-width="1.1"/><line x1="629.70" y1="270.10" x2="629.70" y2="279.00" stroke="#e377c2" stroke-opacity="0.8" stroke-width="1.1"/><line x1="631.69" y1="270.10" x2="631.69" y2="279.00" stroke="#e377c2" stroke-opacity="0.8" stroke-width="1.1"/><line x1="634.19" y1="270.10" x2="634.19" y2="279.00" stroke="#e377c2" stroke-opacity="0.8" stroke-width="1.1"/><line x1="638.28" y1="270.10" x2="638.28" y2="279.00" stroke="#e377c2" stroke-opacity="0.8" stroke-width="1.1"/><line x1="642.68" y1="270.10" x2="642.68" y2="279.00" stroke="#e377c2" stroke-opacity="0.8" stroke-width="1.1"/><line x1="644.68" y1="270.10" x2="644.68" y2="279.00" stroke="#e377c2" stroke-opacity="0.8" stroke-width="1.1"/><line x1="646.67" y1="270.10" x2="646.67" y2="279.00" stroke="#e377c2" stroke-opacity="0.8" stroke-width="1.1"/><line x1="648.67" y1="270.10" x2="648.67" y2="279.00" stroke="#e377c2" stroke-opacity="0.8" stroke-width="1.1"/><line x1="650.67" y1="270.10" x2="650.67" y2="279.00" stroke="#e377c2" stroke-opacity="0.8" stroke-width="1.1"/><line x1="652.67" y1="270.10" x2="652.67" y2="279.00" stroke="#e377c2" stroke-opacity="0.8" stroke-width="1.1"/><line x1="654.66" y1="270.10" x2="654.66" y2="279.00" stroke="#e377c2" stroke-opacity="0.8" stroke-width="1.1"/><line x1="656.66" y1="270.10" x2="656.66" y2="279.00" stroke="#e377c2" stroke-opacity="0.8" stroke-width="1.1"/><line x1="658.06" y1="270.10" x2="658.06" y2="279.00" stroke="#e377c2" stroke-opacity="0.8" stroke-width="1.1"/><line x1="661.25" y1="270.10" x2="661.25" y2="279.00" stroke="#e377c2" stroke-opacity="0.8" stroke-width="1.1"/><line x1="663.15" y1="270.10" x2="663.15" y2="279.00" stroke="#e377c2" stroke-opacity="0.8" stroke-width="1.1"/><line x1="665.15" y1="270.10" x2="665.15" y2="279.00" stroke="#e377c2" stroke-opacity="0.8" stroke-width="1.1"/><line x1="667.15" y1="270.10" x2="667.15" y2="279.00" stroke="#e377c2" stroke-opacity="0.8" stroke-width="1.1"/><line x1="669.14" y1="270.10" x2="669.14" y2="279.00" stroke="#e377c2" stroke-opacity="0.8" stroke-width="1.1"/><line x1="671.14" y1="270.10" x2="671.14" y2="279.00" stroke="#e377c2" stroke-opacity="0.8" stroke-width="1.1"/><line x1="673.14" y1="270.10" x2="673.14" y2="279.00" stroke="#e377c2" stroke-opacity="0.8" stroke-width="1.1"/><line x1="674.64" y1="270.10" x2="674.64" y2="279.00" stroke="#e377c2" stroke-opacity="0.8" stroke-width="1.1"/><line x1="675.83" y1="270.10" x2="675.83" y2="279.00" stroke="#e377c2" stroke-opacity="0.8" stroke-width="1.1"/><line x1="678.53" y1="270.10" x2="678.53" y2="279.00" stroke="#e377c2" stroke-opacity="0.8" stroke-width="1.1"/></g><g stroke="#000" stroke-width="1" fill="none"><line x1="133.41" y1="289.90" x2="133.41" y2="278.90"/><line x1="133.41" y1="11.10" x2="133.41" y2="22.10"/><line x1="282.21" y1="289.90" x2="282.21" y2="278.90"/><line x1="282.21" y1="11.10" x2="282.21" y2="22.10"/><line x1="55.60" y1="289.90" x2="55.60" y2="284.40"/><line x1="55.60" y1="11.10" x2="55.60" y2="16.60"/><line x1="74.19" y1="289.90" x2="74.19" y2="284.40"/><line x1="74.19" y1="11.10" x2="74.19" y2="16.60"/><line x1="88.61" y1="289.90" x2="88.61" y2="284.40"/><line x1="88.61" y1="11.10" x2="88.61" y2="16.60"/><line x1="100.40" y1="289.90" x2="100.40" y2="284.40"/><line x1="100.40" y1="11.10" x2="100.40" y2="16.60"/><line x1="110.36" y1="289.90" x2="110.36" y2="284.40"/><line x1="110.36" y1="11.10" x2="110.36" y2="16.60"/><line x1="118.99" y1="289.90" x2="118.99" y2="284.40"/><line x1="118.99" y1="11.10" x2="118.99" y2="16.60"/><line x1="126.60" y1="289.90" x2="126.60" y2="284.40"/><line x1="126.60" y1="11.10" x2="126.60" y2="16.60"/><line x1="178.20" y1="289.90" x2="178.20" y2="284.40"/><line x1="178.20" y1="11.10" x2="178.20" y2="16.60"/><line x1="204.40" y1="289.90" x2="204.40" y2="284.40"/><line x1="204.40" y1="11.10" x2="204.40" y2="16.60"/><line x1="222.99" y1="289.90" x2="222.99" y2="284.40"/><line x1="222.99" y1="11.10" x2="222.99" y2="16.60"/><line x1="237.41" y1="289.90" x2="237.41" y2="284.40"/><line x1="237.41" y1="11.10" x2="237.41" y2="16.60"/><line x1="249.20" y1="289.90" x2="249.20" y2="284.40"/><line x1="249.20" y1="11.10" x2="249.20" y2="16.60"/><line x1="259.16" y1="289.90" x2="259.16" y2="284.40"/><line x1="259.16" y1="11.10" x2="259.16" y2="16.60"/><line x1="267.79" y1="289.90" x2="267.79" y2="284.40"/><line x1="267.79" y1="11.10" x2="267.79" y2="16.60"/><line x1="275.40" y1="289.90" x2="275.40" y2="284.40"/><line x1="275.40" y1="11.10" x2="275.40" y2="16.60"/><line x1="327.00" y1="289.90" x2="327.00" y2="284.40"/><line x1="327.00" y1="11.10" x2="327.00" y2="16.60"/><line x1="55.60" y1="210.50" x2="66.60" y2="210.50"/><line x1="336.30" y1="210.50" x2="325.30" y2="210.50"/><line x1="55.60" y1="289.85" x2="61.10" y2="289.85"/><line x1="336.30" y1="289.85" x2="330.80" y2="289.85"/><line x1="55.60" y1="270.53" x2="61.10" y2="270.53"/><line x1="336.30" y1="270.53" x2="330.80" y2="270.53"/><line x1="55.60" y1="254.74" x2="61.10" y2="254.74"/><line x1="336.30" y1="254.74" x2="330.80" y2="254.74"/><line x1="55.60" y1="241.39" x2="61.10" y2="241.39"/><line x1="336.30" y1="241.39" x2="330.80" y2="241.39"/><line x1="55.60" y1="229.82" x2="61.10" y2="229.82"/><line x1="336.30" y1="229.82" x2="330.80" y2="229.82"/><line x1="55.60" y1="219.62" x2="61.10" y2="219.62"/><line x1="336.30" y1="219.62" x2="330.80" y2="219.62"/><line x1="55.60" y1="150.47" x2="61.10" y2="150.47"/><line x1="336.30" y1="150.47" x2="330.80" y2="150.47"/><line x1="55.60" y1="115.36" x2="61.10" y2="115.36"/><line x1="336.30" y1="115.36" x2="330.80" y2="115.36"/><line x1="55.60" y1="90.45" x2="61.10" y2="90.45"/><line x1="336.30" y1="90.45" x2="330.80" y2="90.45"/><line x1="55.60" y1="71.13" x2="61.10" y2="71.13"/><line x1="336.30" y1="71.13" x2="330.80" y2="71.13"/><line x1="55.60" y1="55.34" x2="61.10" y2="55.34"/><line x1="336.30" y1="55.34" x2="330.80" y2="55.34"/><line x1="55.60" y1="41.99" x2="61.10" y2="41.99"/><line x1="336.30" y1="41.99" x2="330.80" y2="41.99"/><line x1="55.60" y1="30.42" x2="61.10" y2="30.42"/><line x1="336.30" y1="30.42" x2="330.80" y2="30.42"/><line x1="55.60" y1="20.22" x2="61.10" y2="20.22"/><line x1="336.30" y1="20.22" x2="330.80" y2="20.22"/><rect x="55.60" y="11.10" width="280.70" height="278.80" fill="none"/></g><g stroke="#000" stroke-width="1" fill="none"><line x1="481.70" y1="289.60" x2="481.70" y2="278.60"/><line x1="481.70" y1="11.10" x2="481.70" y2="22.10"/><line x1="630.30" y1="289.60" x2="630.30" y2="278.60"/><line x1="630.30" y1="11.10" x2="630.30" y2="22.10"/><line x1="404.00" y1="289.60" x2="404.00" y2="284.10"/><line x1="404.00" y1="11.10" x2="404.00" y2="16.60"/><line x1="422.57" y1="289.60" x2="422.57" y2="284.10"/><line x1="422.57" y1="11.10" x2="422.57" y2="16.60"/><line x1="436.97" y1="289.60" x2="436.97" y2="284.10"/><line x1="436.97" y1="11.10" x2="436.97" y2="16.60"/><line x1="448.74" y1="289.60" x2="448.74" y2="284.10"/><line x1="448.74" y1="11.10" x2="448.74" y2="16.60"/><line x1="458.68" y1="289.60" x2="458.68" y2="284.10"/><line x1="458.68" y1="11.10" x2="458.68" y2="16.60"/><line x1="467.30" y1="289.60" x2="467.30" y2="284.10"/><line x1="467.30" y1="11.10" x2="467.30" y2="16.60"/><line x1="474.90" y1="289.60" x2="474.90" y2="284.10"/><line x1="474.90" y1="11.10" x2="474.90" y2="16.60"/><line x1="526.44" y1="289.60" x2="526.44" y2="284.10"/><line x1="526.44" y1="11.10" x2="526.44" y2="16.60"/><line x1="552.60" y1="289.60" x2="552.60" y2="284.10"/><line x1="552.60" y1="11.10" x2="552.60" y2="16.60"/><line x1="571.17" y1="289.60" x2="571.17" y2="284.10"/><line x1="571.17" y1="11.10" x2="571.17" y2="16.60"/><line x1="585.57" y1="289.60" x2="585.57" y2="284.10"/><line x1="585.57" y1="11.10" x2="585.57" y2="16.60"/><line x1="597.34" y1="289.60" x2="597.34" y2="284.10"/><line x1="597.34" y1="11.10" x2="597.34" y2="16.60"/><line x1="607.28" y1="289.60" x2="607.28" y2="284.10"/><line x1="607.28" y1="11.10" x2="607.28" y2="16.60"/><line x1="615.90" y1="289.60" x2="615.90" y2="284.10"/><line x1="615.90" y1="11.10" x2="615.90" y2="16.60"/><line x1="623.50" y1="289.60" x2="623.50" y2="284.10"/><line x1="623.50" y1="11.10" x2="623.50" y2="16.60"/><line x1="675.04" y1="289.60" x2="675.04" y2="284.10"/><line x1="675.04" y1="11.10" x2="675.04" y2="16.60"/><line x1="404.00" y1="232.65" x2="415.00" y2="232.65"/><line x1="684.40" y1="232.65" x2="673.40" y2="232.65"/><line x1="404.00" y1="150.55" x2="415.00" y2="150.55"/><line x1="684.40" y1="150.55" x2="673.40" y2="150.55"/><line x1="404.00" y1="68.45" x2="415.00" y2="68.45"/><line x1="684.40" y1="68.45" x2="673.40" y2="68.45"/><line x1="404.00" y1="275.58" x2="409.50" y2="275.58"/><line x1="684.40" y1="275.58" x2="678.90" y2="275.58"/><line x1="404.00" y1="265.32" x2="409.50" y2="265.32"/><line x1="684.40" y1="265.32" x2="678.90" y2="265.32"/><line x1="404.00" y1="257.36" x2="409.50" y2="257.36"/><line x1="684.40" y1="257.36" x2="678.90" y2="257.36"/><line x1="404.00" y1="250.86" x2="409.50" y2="250.86"/><line x1="684.40" y1="250.86" x2="678.90" y2="250.86"/><line x1="404.00" y1="245.37" x2="409.50" y2="245.37"/><line x1="684.40" y1="245.37" x2="678.90" y2="245.37"/><line x1="404.00" y1="240.61" x2="409.50" y2="240.61"/><line x1="684.40" y1="240.61" x2="678.90" y2="240.61"/><line x1="404.00" y1="236.41" x2="409.50" y2="236.41"/><line x1="684.40" y1="236.41" x2="678.90" y2="236.41"/><line x1="404.00" y1="207.94" x2="409.50" y2="207.94"/><line x1="684.40" y1="207.94" x2="678.90" y2="207.94"/><line x1="404.00" y1="193.48" x2="409.50" y2="193.48"/><line x1="684.40" y1="193.48" x2="678.90" y2="193.48"/><line x1="404.00" y1="183.22" x2="409.50" y2="183.22"/><line x1="684.40" y1="183.22" x2="678.90" y2="183.22"/><line x1="404.00" y1="175.26" x2="409.50" y2="175.26"/><line x1="684.40" y1="175.26" x2="678.90" y2="175.26"/><line x1="404.00" y1="168.76" x2="409.50" y2="168.76"/><line x1="684.40" y1="168.76" x2="678.90" y2="168.76"/><line x1="404.00" y1="163.27" x2="409.50" y2="163.27"/><line x1="684.40" y1="163.27" x2="678.90" y2="163.27"/><line x1="404.00" y1="158.51" x2="409.50" y2="158.51"/><line x1="684.40" y1="158.51" x2="678.90" y2="158.51"/><line x1="404.00" y1="154.31" x2="409.50" y2="154.31"/><line x1="684.40" y1="154.31" x2="678.90" y2="154.31"/><line x1="404.00" y1="125.84" x2="409.50" y2="125.84"/><line x1="684.40" y1="125.84" x2="678.90" y2="125.84"/><line x1="404.00" y1="111.38" x2="409.50" y2="111.38"/><line x1="684.40" y1="111.38" x2="678.90" y2="111.38"/><line x1="404.00" y1="101.12" x2="409.50" y2="101.12"/><line x1="684.40" y1="101.12" x2="678.90" y2="101.12"/><line x1="404.00" y1="93.16" x2="409.50" y2="93.16"/><line x1="684.40" y1="93.16" x2="678.90" y2="93.16"/><line x1="404.00" y1="86.66" x2="409.50" y2="86.66"/><line x1="684.40" y1="86.66" x2="678.90" y2="86.66"/><line x1="404.00" y1="81.17" x2="409.50" y2="81.17"/><line x1="684.40" y1="81.17" x2="678.90" y2="81.17"/><line x1="404.00" y1="76.41" x2="409.50" y2="76.41"/><line x1="684.40" y1="76.41" x2="678.90" y2="76.41"/><line x1="404.00" y1="72.21" x2="409.50" y2="72.21"/><line x1="684.40" y1="72.21" x2="678.90" y2="72.21"/><line x1="404.00" y1="43.74" x2="409.50" y2="43.74"/><line x1="684.40" y1="43.74" x2="678.90" y2="43.74"/><line x1="404.00" y1="29.28" x2="409.50" y2="29.28"/><line x1="684.40" y1="29.28" x2="678.90" y2="29.28"/><line x1="404.00" y1="19.02" x2="409.50" y2="19.02"/><line x1="684.40" y1="19.02" x2="678.90" y2="19.02"/><rect x="404.00" y="11.10" width="280.40" height="278.50" fill="none"/></g><rect x="61.4" y="157.5" width="79.3" height="125.8" rx="2.5" ry="2.5" fill="#fff" fill-opacity="0.8" stroke="#cccccc" stroke-opacity="0.8" stroke-width="1"/><rect x="66.6" y="162.20" width="25.5" height="8.8" fill="#5382bf" fill-opacity="0.75"/><g fill="#000" stroke="#fff" stroke-width="0.1"><text transform="translate(102.45,171.20) scale(0.949,1.000)" font-size="12.30">R2129</text></g><rect x="66.6" y="179.75" width="25.5" height="8.8" fill="#ff8a28" fill-opacity="0.75"/><g fill="#000" stroke="#fff" stroke-width="0.1"><text transform="translate(102.45,188.75) scale(0.953,1.000)" font-size="12.30">M1931</text></g><rect x="66.6" y="197.30" width="25.5" height="8.8" fill="#68bf3e" fill-opacity="0.75"/><g fill="#000" stroke="#fff" stroke-width="0.1"><text transform="translate(102.45,206.30) scale(0.946,1.000)" font-size="12.30">M0329</text></g><rect x="66.6" y="214.85" width="25.5" height="8.8" fill="#e0442a" fill-opacity="0.75"/><g fill="#000" stroke="#fff" stroke-width="0.1"><text transform="translate(102.45,223.85) scale(0.946,1.000)" font-size="12.30">M2129</text></g><rect x="66.6" y="232.40" width="25.5" height="8.8" fill="#9c6ed2" fill-opacity="0.75"/><g fill="#000" stroke="#fff" stroke-width="0.1"><text transform="translate(102.45,241.40) scale(0.943,1.000)" font-size="12.30">M1206</text></g><rect x="66.6" y="249.95" width="25.5" height="8.8" fill="#835446" fill-opacity="0.75"/><g fill="#000" stroke="#fff" stroke-width="0.1"><text transform="translate(102.69,258.95) scale(0.922,1.000)" font-size="12.30">A1063</text></g><rect x="66.6" y="267.50" width="25.5" height="8.8" fill="#e380cb" fill-opacity="0.75"/><g fill="#000" stroke="#fff" stroke-width="0.1"><text transform="translate(102.45,276.50) scale(0.943,1.000)" font-size="12.30">M0416</text></g><rect x="410.3" y="17.5" width="78.8" height="125.3" rx="2.5" ry="2.5" fill="#fff" fill-opacity="0.8" stroke="#cccccc" stroke-opacity="0.8" stroke-width="1"/><rect x="415.1" y="22.50" width="25.5" height="8.8" fill="#5382bf" fill-opacity="0.75"/><g fill="#000" stroke="#fff" stroke-width="0.1"><text transform="translate(450.95,31.50) scale(0.949,1.000)" font-size="12.30">R2129</text></g><rect x="415.1" y="40.05" width="25.5" height="8.8" fill="#ff8a28" fill-opacity="0.75"/><g fill="#000" stroke="#fff" stroke-width="0.1"><text transform="translate(450.95,49.05) scale(0.953,1.000)" font-size="12.30">M1931</text></g><rect x="415.1" y="57.60" width="25.5" height="8.8" fill="#68bf3e" fill-opacity="0.75"/><g fill="#000" stroke="#fff" stroke-width="0.1"><text transform="translate(450.95,66.60) scale(0.946,1.000)" font-size="12.30">M0329</text></g><rect x="415.1" y="75.15" width="25.5" height="8.8" fill="#e0442a" fill-opacity="0.75"/><g fill="#000" stroke="#fff" stroke-width="0.1"><text transform="translate(450.95,84.15) scale(0.946,1.000)" font-size="12.30">M2129</text></g><rect x="415.1" y="92.70" width="25.5" height="8.8" fill="#9c6ed2" fill-opacity="0.75"/><g fill="#000" stroke="#fff" stroke-width="0.1"><text transform="translate(450.95,101.70) scale(0.943,1.000)" font-size="12.30">M1206</text></g><rect x="415.1" y="110.25" width="25.5" height="8.8" fill="#835446" fill-opacity="0.75"/><g fill="#000" stroke="#fff" stroke-width="0.1"><text transform="translate(451.19,119.25) scale(0.922,1.000)" font-size="12.30">A1063</text></g><rect x="415.1" y="127.80" width="25.5" height="8.8" fill="#e380cb" fill-opacity="0.75"/><g fill="#000" stroke="#fff" stroke-width="0.1"><text transform="translate(450.95,136.80) scale(0.943,1.000)" font-size="12.30">M0416</text></g><g fill="#000" stroke="#fff" stroke-width="0.12"><text transform="translate(115.56,310.40) scale(0.911,1.000)" font-size="20.00">10</text><rect x="135.30" y="299.02" width="7.70" height="0.95" fill="#000" stroke="none"/><text transform="translate(144.60,303.40) scale(0.981,1.000)" font-size="13.50">2</text><text transform="translate(264.36,310.40) scale(0.911,1.000)" font-size="20.00">10</text><rect x="284.10" y="299.02" width="7.70" height="0.95" fill="#000" stroke="none"/><text transform="translate(294.30,303.40) scale(0.741,1.000)" font-size="13.50">1</text><text transform="translate(463.86,310.40) scale(0.911,1.000)" font-size="20.00">10</text><rect x="483.60" y="299.02" width="7.70" height="0.95" fill="#000" stroke="none"/><text transform="translate(492.90,303.40) scale(0.981,1.000)" font-size="13.50">2</text><text transform="translate(612.46,310.40) scale(0.911,1.000)" font-size="20.00">10</text><rect x="632.20" y="299.02" width="7.70" height="0.95" fill="#000" stroke="none"/><text transform="translate(642.40,303.40) scale(0.741,1.000)" font-size="13.50">1</text><text transform="translate(28.41,18.40) scale(0.885,1.000)" font-size="20.00">10</text><text transform="translate(46.60,11.40) scale(0.981,1.000)" font-size="13.50">2</text><text transform="translate(28.41,217.80) scale(0.885,1.000)" font-size="20.00">10</text><text transform="translate(47.53,210.80) scale(0.720,1.000)" font-size="13.50">1</text><text transform="translate(365.92,75.70) scale(0.931,1.000)" font-size="20.00">10</text><rect x="385.50" y="64.23" width="8.00" height="0.95" fill="#000" stroke="none"/><text transform="translate(395.00,68.70) scale(0.825,1.000)" font-size="13.50">1</text><text transform="translate(365.92,157.70) scale(0.931,1.000)" font-size="20.00">10</text><rect x="385.50" y="146.23" width="8.00" height="0.95" fill="#000" stroke="none"/><text transform="translate(394.60,150.70) scale(0.981,1.000)" font-size="13.50">2</text><text transform="translate(365.92,239.60) scale(0.931,1.000)" font-size="20.00">10</text><rect x="385.50" y="228.13" width="8.00" height="0.95" fill="#000" stroke="none"/><text transform="translate(394.55,232.60) scale(0.958,1.000)" font-size="13.50">3</text><text transform="translate(165.14,329.70) scale(0.897,1.000)" font-size="20.90">R</text><line x1="180.00" y1="334.60" x2="186.40" y2="315.30" stroke="#000" stroke-width="1.05"/><text transform="translate(188.87,329.70) scale(0.851,1.000)" font-size="20.90">R</text><text transform="translate(202.02,332.40) scale(0.983,1.000)" font-size="13.00">200c</text><text transform="translate(513.24,329.70) scale(0.897,1.000)" font-size="20.90">R</text><line x1="528.10" y1="334.60" x2="534.50" y2="315.30" stroke="#000" stroke-width="1.05"/><text transform="translate(536.97,329.70) scale(0.851,1.000)" font-size="20.90">R</text><text transform="translate(550.12,332.40) scale(0.983,1.000)" font-size="13.00">200c</text><g transform="translate(16.6,221.6) rotate(-90)"><text transform="translate(-0.62,0.00) scale(1.130,1.000)" font-size="20.40">Σ</text><text transform="translate(13.64,0.00) scale(0.827,1.000)" font-size="20.40">(</text><text transform="translate(20.01,0.00) scale(0.965,1.000)" font-size="20.40">R</text><text transform="translate(33.95,0.00) scale(0.735,1.000)" font-size="20.40">)</text><text transform="translate(42.03,0.00) scale(0.679,0.800)" font-size="20.40" font-style="italic">π</text><text transform="translate(53.11,0.00) scale(0.803,1.000)" font-size="20.40">R</text><text transform="translate(65.27,-7.80) scale(1.037,1.000)" font-size="13.50">2</text><text transform="translate(64.40,5.20) scale(1.028,1.000)" font-size="13.00">200c</text><line x1="92.80" y1="5.30" x2="99.60" y2="-14.60" stroke="#000" stroke-width="1.05"/><text transform="translate(100.83,0.00) scale(0.933,1.000)" font-size="20.40">M</text><text transform="translate(117.92,2.70) scale(0.983,1.000)" font-size="13.00">200c</text></g><g transform="translate(356.8,207.4) rotate(-90)"><text transform="translate(-0.22,0.00) scale(0.856,1.000)" font-size="20.40">M</text><text transform="translate(16.54,0.00) scale(0.942,1.000)" font-size="20.40">(</text><text transform="translate(28.17,2.40) scale(0.717,1.050)" font-size="20.40"><</text><text transform="translate(44.08,0.00) scale(0.849,1.000)" font-size="20.40">R</text><text transform="translate(57.11,0.00) scale(0.962,1.000)" font-size="20.40">)</text><line x1="65.40" y1="4.40" x2="72.10" y2="-14.90" stroke="#000" stroke-width="1.05"/><text transform="translate(74.44,0.00) scale(0.915,1.000)" font-size="20.40">M</text><text transform="translate(90.51,2.80) scale(1.004,1.000)" font-size="13.00">200c</text></g></g></svg></body></html>
